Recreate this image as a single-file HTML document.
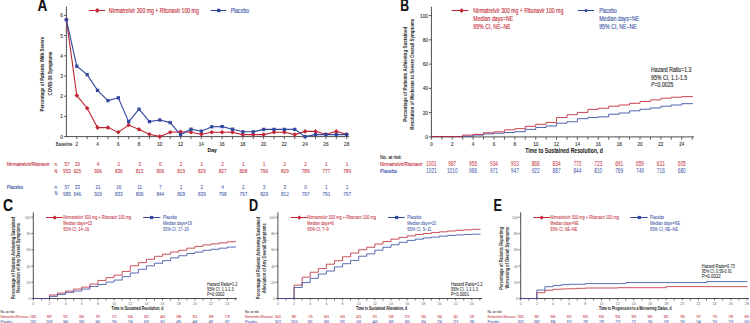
<!DOCTYPE html><html><head><meta charset="utf-8"><style>html,body{margin:0;padding:0;background:#fff;width:750px;height:323px;overflow:hidden}svg{display:block}text{font-family:"Liberation Sans",sans-serif;stroke:currentColor}</style></head><body>
<svg width="750" height="323" viewBox="0 0 750 323">
<rect width="750" height="323" fill="#fff"/>
<text x="37.60" y="11.26" font-size="15.6" fill="#111" color="#111" stroke-width="0.12" textLength="9.80" lengthAdjust="spacingAndGlyphs" font-weight="bold">A</text>
<line x1="66.40" y1="6.50" x2="66.40" y2="137.10" stroke="#3a3a3a" stroke-width="0.9"/>
<line x1="66.00" y1="136.60" x2="349.20" y2="136.60" stroke="#3a3a3a" stroke-width="0.9"/>
<line x1="63.90" y1="136.60" x2="66.40" y2="136.60" stroke="#3a3a3a" stroke-width="0.8"/>
<text x="62.90" y="138.63" font-size="5.8" fill="#333" color="#333" stroke-width="0.12" text-anchor="end" textLength="2.65" lengthAdjust="spacingAndGlyphs">0</text>
<line x1="63.90" y1="116.40" x2="66.40" y2="116.40" stroke="#3a3a3a" stroke-width="0.8"/>
<text x="62.90" y="118.43" font-size="5.8" fill="#333" color="#333" stroke-width="0.12" text-anchor="end" textLength="2.65" lengthAdjust="spacingAndGlyphs">1</text>
<line x1="63.90" y1="96.20" x2="66.40" y2="96.20" stroke="#3a3a3a" stroke-width="0.8"/>
<text x="62.90" y="98.23" font-size="5.8" fill="#333" color="#333" stroke-width="0.12" text-anchor="end" textLength="2.65" lengthAdjust="spacingAndGlyphs">2</text>
<line x1="63.90" y1="76.00" x2="66.40" y2="76.00" stroke="#3a3a3a" stroke-width="0.8"/>
<text x="62.90" y="78.03" font-size="5.8" fill="#333" color="#333" stroke-width="0.12" text-anchor="end" textLength="2.65" lengthAdjust="spacingAndGlyphs">3</text>
<line x1="63.90" y1="55.80" x2="66.40" y2="55.80" stroke="#3a3a3a" stroke-width="0.8"/>
<text x="62.90" y="57.83" font-size="5.8" fill="#333" color="#333" stroke-width="0.12" text-anchor="end" textLength="2.65" lengthAdjust="spacingAndGlyphs">4</text>
<line x1="63.90" y1="35.60" x2="66.40" y2="35.60" stroke="#3a3a3a" stroke-width="0.8"/>
<text x="62.90" y="37.63" font-size="5.8" fill="#333" color="#333" stroke-width="0.12" text-anchor="end" textLength="2.65" lengthAdjust="spacingAndGlyphs">5</text>
<line x1="63.90" y1="15.40" x2="66.40" y2="15.40" stroke="#3a3a3a" stroke-width="0.8"/>
<text x="62.90" y="17.43" font-size="5.8" fill="#333" color="#333" stroke-width="0.12" text-anchor="end" textLength="2.65" lengthAdjust="spacingAndGlyphs">6</text>
<line x1="76.78" y1="136.60" x2="76.78" y2="139.20" stroke="#3a3a3a" stroke-width="0.8"/>
<text x="76.78" y="146.16" font-size="5.6" fill="#333" color="#333" stroke-width="0.12" text-anchor="middle" textLength="2.55" lengthAdjust="spacingAndGlyphs">2</text>
<line x1="87.16" y1="136.60" x2="87.16" y2="139.20" stroke="#3a3a3a" stroke-width="0.8"/>
<line x1="97.54" y1="136.60" x2="97.54" y2="139.20" stroke="#3a3a3a" stroke-width="0.8"/>
<text x="97.54" y="146.16" font-size="5.6" fill="#333" color="#333" stroke-width="0.12" text-anchor="middle" textLength="2.55" lengthAdjust="spacingAndGlyphs">4</text>
<line x1="107.92" y1="136.60" x2="107.92" y2="139.20" stroke="#3a3a3a" stroke-width="0.8"/>
<line x1="118.30" y1="136.60" x2="118.30" y2="139.20" stroke="#3a3a3a" stroke-width="0.8"/>
<text x="118.30" y="146.16" font-size="5.6" fill="#333" color="#333" stroke-width="0.12" text-anchor="middle" textLength="2.55" lengthAdjust="spacingAndGlyphs">6</text>
<line x1="128.68" y1="136.60" x2="128.68" y2="139.20" stroke="#3a3a3a" stroke-width="0.8"/>
<line x1="139.06" y1="136.60" x2="139.06" y2="139.20" stroke="#3a3a3a" stroke-width="0.8"/>
<text x="139.06" y="146.16" font-size="5.6" fill="#333" color="#333" stroke-width="0.12" text-anchor="middle" textLength="2.55" lengthAdjust="spacingAndGlyphs">8</text>
<line x1="149.44" y1="136.60" x2="149.44" y2="139.20" stroke="#3a3a3a" stroke-width="0.8"/>
<line x1="159.82" y1="136.60" x2="159.82" y2="139.20" stroke="#3a3a3a" stroke-width="0.8"/>
<text x="159.82" y="146.16" font-size="5.6" fill="#333" color="#333" stroke-width="0.12" text-anchor="middle" textLength="5.11" lengthAdjust="spacingAndGlyphs">10</text>
<line x1="170.20" y1="136.60" x2="170.20" y2="139.20" stroke="#3a3a3a" stroke-width="0.8"/>
<line x1="180.58" y1="136.60" x2="180.58" y2="139.20" stroke="#3a3a3a" stroke-width="0.8"/>
<text x="180.58" y="146.16" font-size="5.6" fill="#333" color="#333" stroke-width="0.12" text-anchor="middle" textLength="5.11" lengthAdjust="spacingAndGlyphs">12</text>
<line x1="190.96" y1="136.60" x2="190.96" y2="139.20" stroke="#3a3a3a" stroke-width="0.8"/>
<line x1="201.34" y1="136.60" x2="201.34" y2="139.20" stroke="#3a3a3a" stroke-width="0.8"/>
<text x="201.34" y="146.16" font-size="5.6" fill="#333" color="#333" stroke-width="0.12" text-anchor="middle" textLength="5.11" lengthAdjust="spacingAndGlyphs">14</text>
<line x1="211.72" y1="136.60" x2="211.72" y2="139.20" stroke="#3a3a3a" stroke-width="0.8"/>
<line x1="222.10" y1="136.60" x2="222.10" y2="139.20" stroke="#3a3a3a" stroke-width="0.8"/>
<text x="222.10" y="146.16" font-size="5.6" fill="#333" color="#333" stroke-width="0.12" text-anchor="middle" textLength="5.11" lengthAdjust="spacingAndGlyphs">16</text>
<line x1="232.48" y1="136.60" x2="232.48" y2="139.20" stroke="#3a3a3a" stroke-width="0.8"/>
<line x1="242.86" y1="136.60" x2="242.86" y2="139.20" stroke="#3a3a3a" stroke-width="0.8"/>
<text x="242.86" y="146.16" font-size="5.6" fill="#333" color="#333" stroke-width="0.12" text-anchor="middle" textLength="5.11" lengthAdjust="spacingAndGlyphs">18</text>
<line x1="253.24" y1="136.60" x2="253.24" y2="139.20" stroke="#3a3a3a" stroke-width="0.8"/>
<line x1="263.62" y1="136.60" x2="263.62" y2="139.20" stroke="#3a3a3a" stroke-width="0.8"/>
<text x="263.62" y="146.16" font-size="5.6" fill="#333" color="#333" stroke-width="0.12" text-anchor="middle" textLength="5.11" lengthAdjust="spacingAndGlyphs">20</text>
<line x1="274.00" y1="136.60" x2="274.00" y2="139.20" stroke="#3a3a3a" stroke-width="0.8"/>
<line x1="284.38" y1="136.60" x2="284.38" y2="139.20" stroke="#3a3a3a" stroke-width="0.8"/>
<text x="284.38" y="146.16" font-size="5.6" fill="#333" color="#333" stroke-width="0.12" text-anchor="middle" textLength="5.11" lengthAdjust="spacingAndGlyphs">22</text>
<line x1="294.76" y1="136.60" x2="294.76" y2="139.20" stroke="#3a3a3a" stroke-width="0.8"/>
<line x1="305.14" y1="136.60" x2="305.14" y2="139.20" stroke="#3a3a3a" stroke-width="0.8"/>
<text x="305.14" y="146.16" font-size="5.6" fill="#333" color="#333" stroke-width="0.12" text-anchor="middle" textLength="5.11" lengthAdjust="spacingAndGlyphs">24</text>
<line x1="315.52" y1="136.60" x2="315.52" y2="139.20" stroke="#3a3a3a" stroke-width="0.8"/>
<line x1="325.90" y1="136.60" x2="325.90" y2="139.20" stroke="#3a3a3a" stroke-width="0.8"/>
<text x="325.90" y="146.16" font-size="5.6" fill="#333" color="#333" stroke-width="0.12" text-anchor="middle" textLength="5.11" lengthAdjust="spacingAndGlyphs">26</text>
<line x1="336.28" y1="136.60" x2="336.28" y2="139.20" stroke="#3a3a3a" stroke-width="0.8"/>
<line x1="346.66" y1="136.60" x2="346.66" y2="139.20" stroke="#3a3a3a" stroke-width="0.8"/>
<text x="346.66" y="146.16" font-size="5.6" fill="#333" color="#333" stroke-width="0.12" text-anchor="middle" textLength="5.11" lengthAdjust="spacingAndGlyphs">28</text>
<text x="64.20" y="146.16" font-size="5.6" fill="#333" color="#333" stroke-width="0.12" text-anchor="middle" textLength="16.70" lengthAdjust="spacingAndGlyphs">Baseline</text>
<text x="212.20" y="152.30" font-size="6.0" fill="#111" color="#111" stroke-width="0.05" text-anchor="middle" textLength="9.40" lengthAdjust="spacingAndGlyphs" font-weight="bold">Day</text>
<g transform="translate(42.40 74.20) rotate(-90)"><text x="0" y="1.96" font-size="5.6" fill="#2a2a2a" color="#2a2a2a" stroke-width="0.04" text-anchor="middle" font-weight="bold" textLength="74.80" lengthAdjust="spacingAndGlyphs">Percentage of Patients With Severe</text></g>
<g transform="translate(49.80 73.60) rotate(-90)"><text x="0" y="1.96" font-size="5.6" fill="#2a2a2a" color="#2a2a2a" stroke-width="0.04" text-anchor="middle" font-weight="bold" textLength="43.80" lengthAdjust="spacingAndGlyphs">COVID-19 Symptoms</text></g>
<line x1="89.00" y1="10.50" x2="105.20" y2="10.50" stroke="#bf2535" stroke-width="1.0"/>
<path d="M97.30 8.10L99.70 10.50L97.30 12.90L94.90 10.50Z" fill="#bf2535"/>
<text x="108.80" y="12.61" font-size="6.3" fill="#c42a36" color="#c42a36" stroke-width="0.12" textLength="90.00" lengthAdjust="spacingAndGlyphs">Nirmatrelvir 300 mg + Ritonavir 100 mg</text>
<line x1="210.80" y1="10.50" x2="226.40" y2="10.50" stroke="#3147a0" stroke-width="1.0"/>
<rect x="217.00" y="8.80" width="3.40" height="3.40" fill="#3147a0"/>
<text x="230.70" y="12.61" font-size="6.3" fill="#3b52a6" color="#3b52a6" stroke-width="0.12" textLength="18.50" lengthAdjust="spacingAndGlyphs">Placebo</text>
<polyline points="66.40,19.80 76.78,95.40 87.16,108.20 97.54,127.60 107.92,127.60 118.30,132.20 128.68,125.00 139.06,129.40 149.44,134.20 159.82,136.60 170.20,132.20 180.58,131.80 190.96,132.20 201.34,134.20 211.72,132.20 222.10,132.20 232.48,132.20 242.86,134.60 253.24,134.60 263.62,134.60 274.00,132.20 284.38,132.20 294.76,134.60 305.14,131.40 315.52,131.40 325.90,134.20 336.28,131.40 346.66,134.20" fill="none" stroke="#bf2535" stroke-width="1.1" stroke-linejoin="miter"/>
<path d="M66.40 17.50L68.70 19.80L66.40 22.10L64.10 19.80Z" fill="#bf2535"/>
<path d="M76.78 93.10L79.08 95.40L76.78 97.70L74.48 95.40Z" fill="#bf2535"/>
<path d="M87.16 105.90L89.46 108.20L87.16 110.50L84.86 108.20Z" fill="#bf2535"/>
<path d="M97.54 125.30L99.84 127.60L97.54 129.90L95.24 127.60Z" fill="#bf2535"/>
<path d="M107.92 125.30L110.22 127.60L107.92 129.90L105.62 127.60Z" fill="#bf2535"/>
<path d="M118.30 129.90L120.60 132.20L118.30 134.50L116.00 132.20Z" fill="#bf2535"/>
<path d="M128.68 122.70L130.98 125.00L128.68 127.30L126.38 125.00Z" fill="#bf2535"/>
<path d="M139.06 127.10L141.36 129.40L139.06 131.70L136.76 129.40Z" fill="#bf2535"/>
<path d="M149.44 131.90L151.74 134.20L149.44 136.50L147.14 134.20Z" fill="#bf2535"/>
<path d="M159.82 134.30L162.12 136.60L159.82 138.90L157.52 136.60Z" fill="#bf2535"/>
<path d="M170.20 129.90L172.50 132.20L170.20 134.50L167.90 132.20Z" fill="#bf2535"/>
<path d="M180.58 129.50L182.88 131.80L180.58 134.10L178.28 131.80Z" fill="#bf2535"/>
<path d="M190.96 129.90L193.26 132.20L190.96 134.50L188.66 132.20Z" fill="#bf2535"/>
<path d="M201.34 131.90L203.64 134.20L201.34 136.50L199.04 134.20Z" fill="#bf2535"/>
<path d="M211.72 129.90L214.02 132.20L211.72 134.50L209.42 132.20Z" fill="#bf2535"/>
<path d="M222.10 129.90L224.40 132.20L222.10 134.50L219.80 132.20Z" fill="#bf2535"/>
<path d="M232.48 129.90L234.78 132.20L232.48 134.50L230.18 132.20Z" fill="#bf2535"/>
<path d="M242.86 132.30L245.16 134.60L242.86 136.90L240.56 134.60Z" fill="#bf2535"/>
<path d="M253.24 132.30L255.54 134.60L253.24 136.90L250.94 134.60Z" fill="#bf2535"/>
<path d="M263.62 132.30L265.92 134.60L263.62 136.90L261.32 134.60Z" fill="#bf2535"/>
<path d="M274.00 129.90L276.30 132.20L274.00 134.50L271.70 132.20Z" fill="#bf2535"/>
<path d="M284.38 129.90L286.68 132.20L284.38 134.50L282.08 132.20Z" fill="#bf2535"/>
<path d="M294.76 132.30L297.06 134.60L294.76 136.90L292.46 134.60Z" fill="#bf2535"/>
<path d="M305.14 129.10L307.44 131.40L305.14 133.70L302.84 131.40Z" fill="#bf2535"/>
<path d="M315.52 129.10L317.82 131.40L315.52 133.70L313.22 131.40Z" fill="#bf2535"/>
<path d="M325.90 131.90L328.20 134.20L325.90 136.50L323.60 134.20Z" fill="#bf2535"/>
<path d="M336.28 129.10L338.58 131.40L336.28 133.70L333.98 131.40Z" fill="#bf2535"/>
<path d="M346.66 131.90L348.96 134.20L346.66 136.50L344.36 134.20Z" fill="#bf2535"/>
<polyline points="66.40,19.80 76.78,66.20 87.16,74.60 97.54,90.40 107.92,100.60 118.30,97.80 128.68,121.60 139.06,109.20 149.44,121.60 159.82,120.00 170.20,122.60 180.58,134.80 190.96,129.20 201.34,131.20 211.72,126.80 222.10,126.60 232.48,129.20 242.86,131.80 253.24,131.80 263.62,129.40 274.00,129.40 284.38,129.40 294.76,129.40 305.14,136.60 315.52,134.60 325.90,134.60 336.28,134.60 346.66,134.60" fill="none" stroke="#3147a0" stroke-width="1.1" stroke-linejoin="miter"/>
<rect x="64.75" y="18.15" width="3.30" height="3.30" fill="#3147a0"/>
<rect x="75.13" y="64.55" width="3.30" height="3.30" fill="#3147a0"/>
<rect x="85.51" y="72.95" width="3.30" height="3.30" fill="#3147a0"/>
<rect x="95.89" y="88.75" width="3.30" height="3.30" fill="#3147a0"/>
<rect x="106.27" y="98.95" width="3.30" height="3.30" fill="#3147a0"/>
<rect x="116.65" y="96.15" width="3.30" height="3.30" fill="#3147a0"/>
<rect x="127.03" y="119.95" width="3.30" height="3.30" fill="#3147a0"/>
<rect x="137.41" y="107.55" width="3.30" height="3.30" fill="#3147a0"/>
<rect x="147.79" y="119.95" width="3.30" height="3.30" fill="#3147a0"/>
<rect x="158.17" y="118.35" width="3.30" height="3.30" fill="#3147a0"/>
<rect x="168.55" y="120.95" width="3.30" height="3.30" fill="#3147a0"/>
<rect x="178.93" y="133.15" width="3.30" height="3.30" fill="#3147a0"/>
<rect x="189.31" y="127.55" width="3.30" height="3.30" fill="#3147a0"/>
<rect x="199.69" y="129.55" width="3.30" height="3.30" fill="#3147a0"/>
<rect x="210.07" y="125.15" width="3.30" height="3.30" fill="#3147a0"/>
<rect x="220.45" y="124.95" width="3.30" height="3.30" fill="#3147a0"/>
<rect x="230.83" y="127.55" width="3.30" height="3.30" fill="#3147a0"/>
<rect x="241.21" y="130.15" width="3.30" height="3.30" fill="#3147a0"/>
<rect x="251.59" y="130.15" width="3.30" height="3.30" fill="#3147a0"/>
<rect x="261.97" y="127.75" width="3.30" height="3.30" fill="#3147a0"/>
<rect x="272.35" y="127.75" width="3.30" height="3.30" fill="#3147a0"/>
<rect x="282.73" y="127.75" width="3.30" height="3.30" fill="#3147a0"/>
<rect x="293.11" y="127.75" width="3.30" height="3.30" fill="#3147a0"/>
<rect x="303.49" y="134.95" width="3.30" height="3.30" fill="#3147a0"/>
<rect x="313.87" y="132.95" width="3.30" height="3.30" fill="#3147a0"/>
<rect x="324.25" y="132.95" width="3.30" height="3.30" fill="#3147a0"/>
<rect x="334.63" y="132.95" width="3.30" height="3.30" fill="#3147a0"/>
<rect x="345.01" y="132.95" width="3.30" height="3.30" fill="#3147a0"/>
<text x="6.80" y="166.19" font-size="5.4" fill="#c42a36" color="#c42a36" stroke-width="0.12" textLength="42.70" lengthAdjust="spacingAndGlyphs">Nirmatrelvir/Ritonavir</text>
<text x="54.40" y="166.26" font-size="5.6" fill="#c42a36" color="#c42a36" stroke-width="0.12" textLength="3.20" lengthAdjust="spacingAndGlyphs">n:</text>
<text x="54.40" y="172.86" font-size="5.6" fill="#c42a36" color="#c42a36" stroke-width="0.12" textLength="3.80" lengthAdjust="spacingAndGlyphs">N:</text>
<text x="6.80" y="188.89" font-size="5.4" fill="#3b52a6" color="#3b52a6" stroke-width="0.12" textLength="16.10" lengthAdjust="spacingAndGlyphs">Placebo</text>
<text x="54.40" y="188.96" font-size="5.6" fill="#3b52a6" color="#3b52a6" stroke-width="0.12" textLength="3.20" lengthAdjust="spacingAndGlyphs">n:</text>
<text x="54.40" y="195.46" font-size="5.6" fill="#3b52a6" color="#3b52a6" stroke-width="0.12" textLength="3.80" lengthAdjust="spacingAndGlyphs">N:</text>
<text x="67.00" y="166.40" font-size="6.0" fill="#c42a36" color="#c42a36" stroke-width="0.05" text-anchor="middle" textLength="5.21" lengthAdjust="spacingAndGlyphs">57</text>
<text x="67.00" y="173.00" font-size="6.0" fill="#c42a36" color="#c42a36" stroke-width="0.05" text-anchor="middle" textLength="7.81" lengthAdjust="spacingAndGlyphs">953</text>
<text x="67.00" y="189.10" font-size="6.0" fill="#3b52a6" color="#3b52a6" stroke-width="0.05" text-anchor="middle" textLength="5.21" lengthAdjust="spacingAndGlyphs">57</text>
<text x="67.00" y="195.60" font-size="6.0" fill="#3b52a6" color="#3b52a6" stroke-width="0.05" text-anchor="middle" textLength="7.81" lengthAdjust="spacingAndGlyphs">985</text>
<text x="77.28" y="166.40" font-size="6.0" fill="#c42a36" color="#c42a36" stroke-width="0.05" text-anchor="middle" textLength="5.21" lengthAdjust="spacingAndGlyphs">19</text>
<text x="77.28" y="173.00" font-size="6.0" fill="#c42a36" color="#c42a36" stroke-width="0.05" text-anchor="middle" textLength="7.81" lengthAdjust="spacingAndGlyphs">925</text>
<text x="77.28" y="189.10" font-size="6.0" fill="#3b52a6" color="#3b52a6" stroke-width="0.05" text-anchor="middle" textLength="5.21" lengthAdjust="spacingAndGlyphs">33</text>
<text x="77.28" y="195.60" font-size="6.0" fill="#3b52a6" color="#3b52a6" stroke-width="0.05" text-anchor="middle" textLength="7.81" lengthAdjust="spacingAndGlyphs">946</text>
<text x="98.04" y="166.40" font-size="6.0" fill="#c42a36" color="#c42a36" stroke-width="0.05" text-anchor="middle" textLength="2.60" lengthAdjust="spacingAndGlyphs">4</text>
<text x="98.04" y="173.00" font-size="6.0" fill="#c42a36" color="#c42a36" stroke-width="0.05" text-anchor="middle" textLength="7.81" lengthAdjust="spacingAndGlyphs">906</text>
<text x="98.04" y="189.10" font-size="6.0" fill="#3b52a6" color="#3b52a6" stroke-width="0.05" text-anchor="middle" textLength="5.21" lengthAdjust="spacingAndGlyphs">21</text>
<text x="98.04" y="195.60" font-size="6.0" fill="#3b52a6" color="#3b52a6" stroke-width="0.05" text-anchor="middle" textLength="7.81" lengthAdjust="spacingAndGlyphs">919</text>
<text x="118.80" y="166.40" font-size="6.0" fill="#c42a36" color="#c42a36" stroke-width="0.05" text-anchor="middle" textLength="2.60" lengthAdjust="spacingAndGlyphs">2</text>
<text x="118.80" y="173.00" font-size="6.0" fill="#c42a36" color="#c42a36" stroke-width="0.05" text-anchor="middle" textLength="7.81" lengthAdjust="spacingAndGlyphs">836</text>
<text x="118.80" y="189.10" font-size="6.0" fill="#3b52a6" color="#3b52a6" stroke-width="0.05" text-anchor="middle" textLength="5.21" lengthAdjust="spacingAndGlyphs">16</text>
<text x="118.80" y="195.60" font-size="6.0" fill="#3b52a6" color="#3b52a6" stroke-width="0.05" text-anchor="middle" textLength="7.81" lengthAdjust="spacingAndGlyphs">833</text>
<text x="139.56" y="166.40" font-size="6.0" fill="#c42a36" color="#c42a36" stroke-width="0.05" text-anchor="middle" textLength="2.60" lengthAdjust="spacingAndGlyphs">3</text>
<text x="139.56" y="173.00" font-size="6.0" fill="#c42a36" color="#c42a36" stroke-width="0.05" text-anchor="middle" textLength="7.81" lengthAdjust="spacingAndGlyphs">813</text>
<text x="139.56" y="189.10" font-size="6.0" fill="#3b52a6" color="#3b52a6" stroke-width="0.05" text-anchor="middle" textLength="4.86" lengthAdjust="spacingAndGlyphs">11</text>
<text x="139.56" y="195.60" font-size="6.0" fill="#3b52a6" color="#3b52a6" stroke-width="0.05" text-anchor="middle" textLength="7.81" lengthAdjust="spacingAndGlyphs">809</text>
<text x="160.32" y="166.40" font-size="6.0" fill="#c42a36" color="#c42a36" stroke-width="0.05" text-anchor="middle" textLength="2.60" lengthAdjust="spacingAndGlyphs">0</text>
<text x="160.32" y="173.00" font-size="6.0" fill="#c42a36" color="#c42a36" stroke-width="0.05" text-anchor="middle" textLength="7.81" lengthAdjust="spacingAndGlyphs">806</text>
<text x="160.32" y="189.10" font-size="6.0" fill="#3b52a6" color="#3b52a6" stroke-width="0.05" text-anchor="middle" textLength="2.60" lengthAdjust="spacingAndGlyphs">7</text>
<text x="160.32" y="195.60" font-size="6.0" fill="#3b52a6" color="#3b52a6" stroke-width="0.05" text-anchor="middle" textLength="7.81" lengthAdjust="spacingAndGlyphs">844</text>
<text x="181.08" y="166.40" font-size="6.0" fill="#c42a36" color="#c42a36" stroke-width="0.05" text-anchor="middle" textLength="2.60" lengthAdjust="spacingAndGlyphs">2</text>
<text x="181.08" y="173.00" font-size="6.0" fill="#c42a36" color="#c42a36" stroke-width="0.05" text-anchor="middle" textLength="7.81" lengthAdjust="spacingAndGlyphs">819</text>
<text x="181.08" y="189.10" font-size="6.0" fill="#3b52a6" color="#3b52a6" stroke-width="0.05" text-anchor="middle" textLength="2.60" lengthAdjust="spacingAndGlyphs">1</text>
<text x="181.08" y="195.60" font-size="6.0" fill="#3b52a6" color="#3b52a6" stroke-width="0.05" text-anchor="middle" textLength="7.81" lengthAdjust="spacingAndGlyphs">809</text>
<text x="201.84" y="166.40" font-size="6.0" fill="#c42a36" color="#c42a36" stroke-width="0.05" text-anchor="middle" textLength="2.60" lengthAdjust="spacingAndGlyphs">1</text>
<text x="201.84" y="173.00" font-size="6.0" fill="#c42a36" color="#c42a36" stroke-width="0.05" text-anchor="middle" textLength="7.81" lengthAdjust="spacingAndGlyphs">829</text>
<text x="201.84" y="189.10" font-size="6.0" fill="#3b52a6" color="#3b52a6" stroke-width="0.05" text-anchor="middle" textLength="2.60" lengthAdjust="spacingAndGlyphs">2</text>
<text x="201.84" y="195.60" font-size="6.0" fill="#3b52a6" color="#3b52a6" stroke-width="0.05" text-anchor="middle" textLength="7.81" lengthAdjust="spacingAndGlyphs">839</text>
<text x="222.60" y="166.40" font-size="6.0" fill="#c42a36" color="#c42a36" stroke-width="0.05" text-anchor="middle" textLength="2.60" lengthAdjust="spacingAndGlyphs">2</text>
<text x="222.60" y="173.00" font-size="6.0" fill="#c42a36" color="#c42a36" stroke-width="0.05" text-anchor="middle" textLength="7.81" lengthAdjust="spacingAndGlyphs">827</text>
<text x="222.60" y="189.10" font-size="6.0" fill="#3b52a6" color="#3b52a6" stroke-width="0.05" text-anchor="middle" textLength="2.60" lengthAdjust="spacingAndGlyphs">4</text>
<text x="222.60" y="195.60" font-size="6.0" fill="#3b52a6" color="#3b52a6" stroke-width="0.05" text-anchor="middle" textLength="7.81" lengthAdjust="spacingAndGlyphs">798</text>
<text x="243.36" y="166.40" font-size="6.0" fill="#c42a36" color="#c42a36" stroke-width="0.05" text-anchor="middle" textLength="2.60" lengthAdjust="spacingAndGlyphs">1</text>
<text x="243.36" y="173.00" font-size="6.0" fill="#c42a36" color="#c42a36" stroke-width="0.05" text-anchor="middle" textLength="7.81" lengthAdjust="spacingAndGlyphs">808</text>
<text x="243.36" y="189.10" font-size="6.0" fill="#3b52a6" color="#3b52a6" stroke-width="0.05" text-anchor="middle" textLength="2.60" lengthAdjust="spacingAndGlyphs">2</text>
<text x="243.36" y="195.60" font-size="6.0" fill="#3b52a6" color="#3b52a6" stroke-width="0.05" text-anchor="middle" textLength="7.81" lengthAdjust="spacingAndGlyphs">797</text>
<text x="264.12" y="166.40" font-size="6.0" fill="#c42a36" color="#c42a36" stroke-width="0.05" text-anchor="middle" textLength="2.60" lengthAdjust="spacingAndGlyphs">1</text>
<text x="264.12" y="173.00" font-size="6.0" fill="#c42a36" color="#c42a36" stroke-width="0.05" text-anchor="middle" textLength="7.81" lengthAdjust="spacingAndGlyphs">796</text>
<text x="264.12" y="189.10" font-size="6.0" fill="#3b52a6" color="#3b52a6" stroke-width="0.05" text-anchor="middle" textLength="2.60" lengthAdjust="spacingAndGlyphs">3</text>
<text x="264.12" y="195.60" font-size="6.0" fill="#3b52a6" color="#3b52a6" stroke-width="0.05" text-anchor="middle" textLength="7.81" lengthAdjust="spacingAndGlyphs">829</text>
<text x="284.88" y="166.40" font-size="6.0" fill="#c42a36" color="#c42a36" stroke-width="0.05" text-anchor="middle" textLength="2.60" lengthAdjust="spacingAndGlyphs">2</text>
<text x="284.88" y="173.00" font-size="6.0" fill="#c42a36" color="#c42a36" stroke-width="0.05" text-anchor="middle" textLength="7.81" lengthAdjust="spacingAndGlyphs">809</text>
<text x="284.88" y="189.10" font-size="6.0" fill="#3b52a6" color="#3b52a6" stroke-width="0.05" text-anchor="middle" textLength="2.60" lengthAdjust="spacingAndGlyphs">3</text>
<text x="284.88" y="195.60" font-size="6.0" fill="#3b52a6" color="#3b52a6" stroke-width="0.05" text-anchor="middle" textLength="7.81" lengthAdjust="spacingAndGlyphs">812</text>
<text x="305.64" y="166.40" font-size="6.0" fill="#c42a36" color="#c42a36" stroke-width="0.05" text-anchor="middle" textLength="2.60" lengthAdjust="spacingAndGlyphs">2</text>
<text x="305.64" y="173.00" font-size="6.0" fill="#c42a36" color="#c42a36" stroke-width="0.05" text-anchor="middle" textLength="7.81" lengthAdjust="spacingAndGlyphs">789</text>
<text x="305.64" y="189.10" font-size="6.0" fill="#3b52a6" color="#3b52a6" stroke-width="0.05" text-anchor="middle" textLength="2.60" lengthAdjust="spacingAndGlyphs">0</text>
<text x="305.64" y="195.60" font-size="6.0" fill="#3b52a6" color="#3b52a6" stroke-width="0.05" text-anchor="middle" textLength="7.81" lengthAdjust="spacingAndGlyphs">797</text>
<text x="326.40" y="166.40" font-size="6.0" fill="#c42a36" color="#c42a36" stroke-width="0.05" text-anchor="middle" textLength="2.60" lengthAdjust="spacingAndGlyphs">1</text>
<text x="326.40" y="173.00" font-size="6.0" fill="#c42a36" color="#c42a36" stroke-width="0.05" text-anchor="middle" textLength="7.81" lengthAdjust="spacingAndGlyphs">777</text>
<text x="326.40" y="189.10" font-size="6.0" fill="#3b52a6" color="#3b52a6" stroke-width="0.05" text-anchor="middle" textLength="2.60" lengthAdjust="spacingAndGlyphs">1</text>
<text x="326.40" y="195.60" font-size="6.0" fill="#3b52a6" color="#3b52a6" stroke-width="0.05" text-anchor="middle" textLength="7.81" lengthAdjust="spacingAndGlyphs">791</text>
<text x="347.16" y="166.40" font-size="6.0" fill="#c42a36" color="#c42a36" stroke-width="0.05" text-anchor="middle" textLength="2.60" lengthAdjust="spacingAndGlyphs">1</text>
<text x="347.16" y="173.00" font-size="6.0" fill="#c42a36" color="#c42a36" stroke-width="0.05" text-anchor="middle" textLength="7.81" lengthAdjust="spacingAndGlyphs">789</text>
<text x="347.16" y="189.10" font-size="6.0" fill="#3b52a6" color="#3b52a6" stroke-width="0.05" text-anchor="middle" textLength="2.60" lengthAdjust="spacingAndGlyphs">1</text>
<text x="347.16" y="195.60" font-size="6.0" fill="#3b52a6" color="#3b52a6" stroke-width="0.05" text-anchor="middle" textLength="7.81" lengthAdjust="spacingAndGlyphs">797</text>
<text x="400.20" y="11.26" font-size="15.6" fill="#111" color="#111" stroke-width="0.12" textLength="8.80" lengthAdjust="spacingAndGlyphs" font-weight="bold">B</text>
<line x1="431.40" y1="6.80" x2="431.40" y2="137.40" stroke="#3a3a3a" stroke-width="0.9"/>
<line x1="431.00" y1="136.90" x2="694.00" y2="136.90" stroke="#3a3a3a" stroke-width="0.9"/>
<line x1="428.80" y1="136.90" x2="431.40" y2="136.90" stroke="#3a3a3a" stroke-width="0.8"/>
<text x="428.00" y="139.00" font-size="6.0" fill="#333" color="#333" stroke-width="0.12" text-anchor="end" textLength="2.67" lengthAdjust="spacingAndGlyphs">0</text>
<line x1="428.80" y1="112.64" x2="431.40" y2="112.64" stroke="#3a3a3a" stroke-width="0.8"/>
<text x="428.00" y="114.74" font-size="6.0" fill="#333" color="#333" stroke-width="0.12" text-anchor="end" textLength="5.34" lengthAdjust="spacingAndGlyphs">20</text>
<line x1="428.80" y1="88.38" x2="431.40" y2="88.38" stroke="#3a3a3a" stroke-width="0.8"/>
<text x="428.00" y="90.48" font-size="6.0" fill="#333" color="#333" stroke-width="0.12" text-anchor="end" textLength="5.34" lengthAdjust="spacingAndGlyphs">40</text>
<line x1="428.80" y1="64.12" x2="431.40" y2="64.12" stroke="#3a3a3a" stroke-width="0.8"/>
<text x="428.00" y="66.22" font-size="6.0" fill="#333" color="#333" stroke-width="0.12" text-anchor="end" textLength="5.34" lengthAdjust="spacingAndGlyphs">60</text>
<line x1="428.80" y1="39.86" x2="431.40" y2="39.86" stroke="#3a3a3a" stroke-width="0.8"/>
<text x="428.00" y="41.96" font-size="6.0" fill="#333" color="#333" stroke-width="0.12" text-anchor="end" textLength="5.34" lengthAdjust="spacingAndGlyphs">80</text>
<line x1="428.80" y1="15.60" x2="431.40" y2="15.60" stroke="#3a3a3a" stroke-width="0.8"/>
<text x="428.00" y="17.70" font-size="6.0" fill="#333" color="#333" stroke-width="0.12" text-anchor="end" textLength="8.01" lengthAdjust="spacingAndGlyphs">100</text>
<line x1="431.40" y1="136.90" x2="431.40" y2="139.70" stroke="#3a3a3a" stroke-width="0.8"/>
<text x="431.40" y="146.33" font-size="5.8" fill="#333" color="#333" stroke-width="0.12" text-anchor="middle" textLength="2.52" lengthAdjust="spacingAndGlyphs">0</text>
<line x1="441.83" y1="136.90" x2="441.83" y2="139.70" stroke="#3a3a3a" stroke-width="0.8"/>
<line x1="452.26" y1="136.90" x2="452.26" y2="139.70" stroke="#3a3a3a" stroke-width="0.8"/>
<text x="452.26" y="146.33" font-size="5.8" fill="#333" color="#333" stroke-width="0.12" text-anchor="middle" textLength="2.52" lengthAdjust="spacingAndGlyphs">2</text>
<line x1="462.69" y1="136.90" x2="462.69" y2="139.70" stroke="#3a3a3a" stroke-width="0.8"/>
<line x1="473.12" y1="136.90" x2="473.12" y2="139.70" stroke="#3a3a3a" stroke-width="0.8"/>
<text x="473.12" y="146.33" font-size="5.8" fill="#333" color="#333" stroke-width="0.12" text-anchor="middle" textLength="2.52" lengthAdjust="spacingAndGlyphs">4</text>
<line x1="483.55" y1="136.90" x2="483.55" y2="139.70" stroke="#3a3a3a" stroke-width="0.8"/>
<line x1="493.98" y1="136.90" x2="493.98" y2="139.70" stroke="#3a3a3a" stroke-width="0.8"/>
<text x="493.98" y="146.33" font-size="5.8" fill="#333" color="#333" stroke-width="0.12" text-anchor="middle" textLength="2.52" lengthAdjust="spacingAndGlyphs">6</text>
<line x1="504.41" y1="136.90" x2="504.41" y2="139.70" stroke="#3a3a3a" stroke-width="0.8"/>
<line x1="514.84" y1="136.90" x2="514.84" y2="139.70" stroke="#3a3a3a" stroke-width="0.8"/>
<text x="514.84" y="146.33" font-size="5.8" fill="#333" color="#333" stroke-width="0.12" text-anchor="middle" textLength="2.52" lengthAdjust="spacingAndGlyphs">8</text>
<line x1="525.27" y1="136.90" x2="525.27" y2="139.70" stroke="#3a3a3a" stroke-width="0.8"/>
<line x1="535.70" y1="136.90" x2="535.70" y2="139.70" stroke="#3a3a3a" stroke-width="0.8"/>
<text x="535.70" y="146.33" font-size="5.8" fill="#333" color="#333" stroke-width="0.12" text-anchor="middle" textLength="5.03" lengthAdjust="spacingAndGlyphs">10</text>
<line x1="546.13" y1="136.90" x2="546.13" y2="139.70" stroke="#3a3a3a" stroke-width="0.8"/>
<line x1="556.56" y1="136.90" x2="556.56" y2="139.70" stroke="#3a3a3a" stroke-width="0.8"/>
<text x="556.56" y="146.33" font-size="5.8" fill="#333" color="#333" stroke-width="0.12" text-anchor="middle" textLength="5.03" lengthAdjust="spacingAndGlyphs">12</text>
<line x1="566.99" y1="136.90" x2="566.99" y2="139.70" stroke="#3a3a3a" stroke-width="0.8"/>
<line x1="577.42" y1="136.90" x2="577.42" y2="139.70" stroke="#3a3a3a" stroke-width="0.8"/>
<text x="577.42" y="146.33" font-size="5.8" fill="#333" color="#333" stroke-width="0.12" text-anchor="middle" textLength="5.03" lengthAdjust="spacingAndGlyphs">14</text>
<line x1="587.85" y1="136.90" x2="587.85" y2="139.70" stroke="#3a3a3a" stroke-width="0.8"/>
<line x1="598.28" y1="136.90" x2="598.28" y2="139.70" stroke="#3a3a3a" stroke-width="0.8"/>
<text x="598.28" y="146.33" font-size="5.8" fill="#333" color="#333" stroke-width="0.12" text-anchor="middle" textLength="5.03" lengthAdjust="spacingAndGlyphs">16</text>
<line x1="608.71" y1="136.90" x2="608.71" y2="139.70" stroke="#3a3a3a" stroke-width="0.8"/>
<line x1="619.14" y1="136.90" x2="619.14" y2="139.70" stroke="#3a3a3a" stroke-width="0.8"/>
<text x="619.14" y="146.33" font-size="5.8" fill="#333" color="#333" stroke-width="0.12" text-anchor="middle" textLength="5.03" lengthAdjust="spacingAndGlyphs">18</text>
<line x1="629.57" y1="136.90" x2="629.57" y2="139.70" stroke="#3a3a3a" stroke-width="0.8"/>
<line x1="640.00" y1="136.90" x2="640.00" y2="139.70" stroke="#3a3a3a" stroke-width="0.8"/>
<text x="640.00" y="146.33" font-size="5.8" fill="#333" color="#333" stroke-width="0.12" text-anchor="middle" textLength="5.03" lengthAdjust="spacingAndGlyphs">20</text>
<line x1="650.43" y1="136.90" x2="650.43" y2="139.70" stroke="#3a3a3a" stroke-width="0.8"/>
<line x1="660.86" y1="136.90" x2="660.86" y2="139.70" stroke="#3a3a3a" stroke-width="0.8"/>
<text x="660.86" y="146.33" font-size="5.8" fill="#333" color="#333" stroke-width="0.12" text-anchor="middle" textLength="5.03" lengthAdjust="spacingAndGlyphs">22</text>
<line x1="671.29" y1="136.90" x2="671.29" y2="139.70" stroke="#3a3a3a" stroke-width="0.8"/>
<line x1="681.72" y1="136.90" x2="681.72" y2="139.70" stroke="#3a3a3a" stroke-width="0.8"/>
<text x="681.72" y="146.33" font-size="5.8" fill="#333" color="#333" stroke-width="0.12" text-anchor="middle" textLength="5.03" lengthAdjust="spacingAndGlyphs">24</text>
<line x1="692.15" y1="136.90" x2="692.15" y2="139.70" stroke="#3a3a3a" stroke-width="0.8"/>
<text x="525.30" y="153.18" font-size="6.8" fill="#111" color="#111" stroke-width="0" textLength="77.70" lengthAdjust="spacingAndGlyphs" font-weight="bold">Time to Sustained Resolution, d</text>
<g transform="translate(405.20 74.30) rotate(-90)"><text x="0" y="2.06" font-size="5.9" fill="#2a2a2a" color="#2a2a2a" stroke-width="0" text-anchor="middle" font-weight="bold" textLength="95.00" lengthAdjust="spacingAndGlyphs">Percentage of Patients Achieving Sustained</text></g>
<g transform="translate(411.70 74.25) rotate(-90)"><text x="0" y="2.06" font-size="5.9" fill="#2a2a2a" color="#2a2a2a" stroke-width="0" text-anchor="middle" font-weight="bold" textLength="111.10" lengthAdjust="spacingAndGlyphs">Resolution of Moderate to Severe Overall Symptoms</text></g>
<line x1="451.50" y1="10.50" x2="468.50" y2="10.50" stroke="#bf2535" stroke-width="1.0"/>
<path d="M461.60 8.20L464.00 10.60L461.60 13.00L459.20 10.60Z" fill="#bf2535"/>
<text x="473.30" y="13.35" font-size="7.0" fill="#c42a36" color="#c42a36" stroke-width="0.12" textLength="90.00" lengthAdjust="spacingAndGlyphs">Nirmatrelvir 300 mg + Ritonavir 100 mg</text>
<text x="473.30" y="21.35" font-size="7.0" fill="#c42a36" color="#c42a36" stroke-width="0.12" textLength="40.00" lengthAdjust="spacingAndGlyphs">Median days=NE</text>
<text x="473.30" y="28.75" font-size="7.0" fill="#c42a36" color="#c42a36" stroke-width="0.12" textLength="37.50" lengthAdjust="spacingAndGlyphs">95% CI, NE–NE</text>
<line x1="577.60" y1="10.50" x2="594.00" y2="10.50" stroke="#3147a0" stroke-width="1.0"/>
<circle cx="586" cy="10.6" r="1.6" fill="#3147a0"/>
<text x="599.20" y="13.35" font-size="7.0" fill="#3b52a6" color="#3b52a6" stroke-width="0.12" textLength="17.60" lengthAdjust="spacingAndGlyphs">Placebo</text>
<text x="599.20" y="21.35" font-size="7.0" fill="#3b52a6" color="#3b52a6" stroke-width="0.12" textLength="40.00" lengthAdjust="spacingAndGlyphs">Median days=NE</text>
<text x="599.20" y="28.75" font-size="7.0" fill="#3b52a6" color="#3b52a6" stroke-width="0.12" textLength="37.60" lengthAdjust="spacingAndGlyphs">95% CI, NE–NE</text>
<text x="651.10" y="72.05" font-size="7.0" fill="#222" color="#222" stroke-width="0.12" textLength="40.30" lengthAdjust="spacingAndGlyphs">Hazard Ratio=1.3</text>
<text x="651.10" y="79.95" font-size="7.0" fill="#222" color="#222" stroke-width="0.12" textLength="36.00" lengthAdjust="spacingAndGlyphs">95% CI, 1.1-1.5</text>
<text x="651.10" y="87.15" font-size="7" fill="#222" color="#222" stroke-width="0.12" textLength="22.3" lengthAdjust="spacingAndGlyphs"><tspan font-style="italic">P</tspan>=0.0025</text>
<polyline points="431.40,136.54 462.69,136.54 462.69,136.17 473.12,136.17 473.12,135.08 483.55,135.08 483.55,133.87 493.98,133.87 493.98,133.26 504.41,133.26 504.41,132.53 514.84,132.53 514.84,131.68 525.27,131.68 525.27,129.38 535.70,129.38 535.70,127.44 546.13,127.44 546.13,125.98 556.56,125.98 556.56,123.19 566.99,123.19 566.99,121.74 577.42,121.74 577.42,118.71 587.85,118.71 587.85,117.49 598.28,117.49 598.28,116.89 608.71,116.89 608.71,114.22 619.14,114.22 619.14,113.00 629.57,113.00 629.57,110.82 640.00,110.82 640.00,109.24 650.43,109.24 650.43,107.91 660.86,107.91 660.86,106.21 671.29,106.21 671.29,105.00 681.72,105.00 681.72,103.66 693.00,103.66" fill="none" stroke="#3147a0" stroke-width="0.85" stroke-linejoin="miter"/>
<polyline points="431.40,136.54 462.69,136.54 462.69,135.08 473.12,135.08 473.12,134.35 483.55,134.35 483.55,132.78 493.98,132.78 493.98,131.81 504.41,131.81 504.41,129.86 514.84,129.86 514.84,128.65 525.27,128.65 525.27,126.35 535.70,126.35 535.70,124.28 546.13,124.28 546.13,122.47 556.56,122.47 556.56,117.49 566.99,117.49 566.99,114.70 577.42,114.70 577.42,112.40 587.85,112.40 587.85,109.36 598.28,109.36 598.28,108.27 608.71,108.27 608.71,106.21 619.14,106.21 619.14,105.00 629.57,105.00 629.57,103.30 640.00,103.30 640.00,101.48 650.43,101.48 650.43,99.90 660.86,99.90 660.86,98.21 671.29,98.21 671.29,97.23 681.72,97.23 681.72,96.63 693.00,96.63" fill="none" stroke="#bf2535" stroke-width="0.85" stroke-linejoin="miter"/>
<text x="380.00" y="159.16" font-size="5.6" fill="#222" color="#222" stroke-width="0.12" textLength="22.00" lengthAdjust="spacingAndGlyphs">No. at risk:</text>
<text x="380.00" y="165.96" font-size="5.6" fill="#c42a36" color="#c42a36" stroke-width="0.12" textLength="42.40" lengthAdjust="spacingAndGlyphs">Nirmatrelvir/Ritonavir</text>
<text x="380.00" y="172.96" font-size="5.6" fill="#3b52a6" color="#3b52a6" stroke-width="0.12" textLength="17.20" lengthAdjust="spacingAndGlyphs">Placebo</text>
<text x="431.40" y="166.38" font-size="6.5" fill="#c42a36" color="#c42a36" stroke-width="0" text-anchor="middle" textLength="10.70" lengthAdjust="spacingAndGlyphs">1001</text>
<text x="431.40" y="173.28" font-size="6.5" fill="#3b52a6" color="#3b52a6" stroke-width="0" text-anchor="middle" textLength="10.70" lengthAdjust="spacingAndGlyphs">1021</text>
<text x="452.26" y="166.38" font-size="6.5" fill="#c42a36" color="#c42a36" stroke-width="0" text-anchor="middle" textLength="8.03" lengthAdjust="spacingAndGlyphs">987</text>
<text x="452.26" y="173.28" font-size="6.5" fill="#3b52a6" color="#3b52a6" stroke-width="0" text-anchor="middle" textLength="10.70" lengthAdjust="spacingAndGlyphs">1010</text>
<text x="473.12" y="166.38" font-size="6.5" fill="#c42a36" color="#c42a36" stroke-width="0" text-anchor="middle" textLength="8.03" lengthAdjust="spacingAndGlyphs">956</text>
<text x="473.12" y="173.28" font-size="6.5" fill="#3b52a6" color="#3b52a6" stroke-width="0" text-anchor="middle" textLength="8.03" lengthAdjust="spacingAndGlyphs">986</text>
<text x="493.98" y="166.38" font-size="6.5" fill="#c42a36" color="#c42a36" stroke-width="0" text-anchor="middle" textLength="8.03" lengthAdjust="spacingAndGlyphs">934</text>
<text x="493.98" y="173.28" font-size="6.5" fill="#3b52a6" color="#3b52a6" stroke-width="0" text-anchor="middle" textLength="8.03" lengthAdjust="spacingAndGlyphs">971</text>
<text x="514.84" y="166.38" font-size="6.5" fill="#c42a36" color="#c42a36" stroke-width="0" text-anchor="middle" textLength="8.03" lengthAdjust="spacingAndGlyphs">903</text>
<text x="514.84" y="173.28" font-size="6.5" fill="#3b52a6" color="#3b52a6" stroke-width="0" text-anchor="middle" textLength="8.03" lengthAdjust="spacingAndGlyphs">947</text>
<text x="535.70" y="166.38" font-size="6.5" fill="#c42a36" color="#c42a36" stroke-width="0" text-anchor="middle" textLength="8.03" lengthAdjust="spacingAndGlyphs">868</text>
<text x="535.70" y="173.28" font-size="6.5" fill="#3b52a6" color="#3b52a6" stroke-width="0" text-anchor="middle" textLength="8.03" lengthAdjust="spacingAndGlyphs">922</text>
<text x="556.56" y="166.38" font-size="6.5" fill="#c42a36" color="#c42a36" stroke-width="0" text-anchor="middle" textLength="8.03" lengthAdjust="spacingAndGlyphs">834</text>
<text x="556.56" y="173.28" font-size="6.5" fill="#3b52a6" color="#3b52a6" stroke-width="0" text-anchor="middle" textLength="8.03" lengthAdjust="spacingAndGlyphs">887</text>
<text x="577.42" y="166.38" font-size="6.5" fill="#c42a36" color="#c42a36" stroke-width="0" text-anchor="middle" textLength="8.03" lengthAdjust="spacingAndGlyphs">770</text>
<text x="577.42" y="173.28" font-size="6.5" fill="#3b52a6" color="#3b52a6" stroke-width="0" text-anchor="middle" textLength="8.03" lengthAdjust="spacingAndGlyphs">844</text>
<text x="598.28" y="166.38" font-size="6.5" fill="#c42a36" color="#c42a36" stroke-width="0" text-anchor="middle" textLength="8.03" lengthAdjust="spacingAndGlyphs">723</text>
<text x="598.28" y="173.28" font-size="6.5" fill="#3b52a6" color="#3b52a6" stroke-width="0" text-anchor="middle" textLength="8.03" lengthAdjust="spacingAndGlyphs">810</text>
<text x="619.14" y="166.38" font-size="6.5" fill="#c42a36" color="#c42a36" stroke-width="0" text-anchor="middle" textLength="8.03" lengthAdjust="spacingAndGlyphs">691</text>
<text x="619.14" y="173.28" font-size="6.5" fill="#3b52a6" color="#3b52a6" stroke-width="0" text-anchor="middle" textLength="8.03" lengthAdjust="spacingAndGlyphs">769</text>
<text x="640.00" y="166.38" font-size="6.5" fill="#c42a36" color="#c42a36" stroke-width="0" text-anchor="middle" textLength="8.03" lengthAdjust="spacingAndGlyphs">659</text>
<text x="640.00" y="173.28" font-size="6.5" fill="#3b52a6" color="#3b52a6" stroke-width="0" text-anchor="middle" textLength="8.03" lengthAdjust="spacingAndGlyphs">749</text>
<text x="660.86" y="166.38" font-size="6.5" fill="#c42a36" color="#c42a36" stroke-width="0" text-anchor="middle" textLength="8.03" lengthAdjust="spacingAndGlyphs">631</text>
<text x="660.86" y="173.28" font-size="6.5" fill="#3b52a6" color="#3b52a6" stroke-width="0" text-anchor="middle" textLength="8.03" lengthAdjust="spacingAndGlyphs">716</text>
<text x="681.72" y="166.38" font-size="6.5" fill="#c42a36" color="#c42a36" stroke-width="0" text-anchor="middle" textLength="8.03" lengthAdjust="spacingAndGlyphs">605</text>
<text x="681.72" y="173.28" font-size="6.5" fill="#3b52a6" color="#3b52a6" stroke-width="0" text-anchor="middle" textLength="8.03" lengthAdjust="spacingAndGlyphs">680</text>
<text x="3.00" y="210.66" font-size="15.6" fill="#111" color="#111" stroke-width="0.12" textLength="10.10" lengthAdjust="spacingAndGlyphs" font-weight="bold">C</text>
<line x1="33.30" y1="212.30" x2="33.30" y2="298.90" stroke="#3a3a3a" stroke-width="0.9"/>
<line x1="32.90" y1="298.50" x2="237.00" y2="298.50" stroke="#3a3a3a" stroke-width="0.9"/>
<line x1="31.30" y1="298.50" x2="33.30" y2="298.50" stroke="#3a3a3a" stroke-width="0.7"/>
<text x="30.50" y="300.04" font-size="4.4" fill="#666" color="#666" stroke-width="0" text-anchor="end" textLength="1.96" lengthAdjust="spacingAndGlyphs">0</text>
<line x1="31.30" y1="282.24" x2="33.30" y2="282.24" stroke="#3a3a3a" stroke-width="0.7"/>
<text x="30.50" y="283.78" font-size="4.4" fill="#666" color="#666" stroke-width="0" text-anchor="end" textLength="3.92" lengthAdjust="spacingAndGlyphs">20</text>
<line x1="31.30" y1="265.98" x2="33.30" y2="265.98" stroke="#3a3a3a" stroke-width="0.7"/>
<text x="30.50" y="267.52" font-size="4.4" fill="#666" color="#666" stroke-width="0" text-anchor="end" textLength="3.92" lengthAdjust="spacingAndGlyphs">40</text>
<line x1="31.30" y1="249.72" x2="33.30" y2="249.72" stroke="#3a3a3a" stroke-width="0.7"/>
<text x="30.50" y="251.26" font-size="4.4" fill="#666" color="#666" stroke-width="0" text-anchor="end" textLength="3.92" lengthAdjust="spacingAndGlyphs">60</text>
<line x1="31.30" y1="233.46" x2="33.30" y2="233.46" stroke="#3a3a3a" stroke-width="0.7"/>
<text x="30.50" y="235.00" font-size="4.4" fill="#666" color="#666" stroke-width="0" text-anchor="end" textLength="3.92" lengthAdjust="spacingAndGlyphs">80</text>
<line x1="31.30" y1="217.20" x2="33.30" y2="217.20" stroke="#3a3a3a" stroke-width="0.7"/>
<text x="30.50" y="218.74" font-size="4.4" fill="#666" color="#666" stroke-width="0" text-anchor="end" textLength="5.87" lengthAdjust="spacingAndGlyphs">100</text>
<line x1="33.30" y1="298.50" x2="33.30" y2="300.50" stroke="#3a3a3a" stroke-width="0.7"/>
<text x="33.30" y="305.14" font-size="4.4" fill="#666" color="#666" stroke-width="0" text-anchor="middle" textLength="1.96" lengthAdjust="spacingAndGlyphs">0</text>
<line x1="41.38" y1="298.50" x2="41.38" y2="300.50" stroke="#3a3a3a" stroke-width="0.7"/>
<line x1="49.46" y1="298.50" x2="49.46" y2="300.50" stroke="#3a3a3a" stroke-width="0.7"/>
<text x="49.46" y="305.14" font-size="4.4" fill="#666" color="#666" stroke-width="0" text-anchor="middle" textLength="1.96" lengthAdjust="spacingAndGlyphs">2</text>
<line x1="57.54" y1="298.50" x2="57.54" y2="300.50" stroke="#3a3a3a" stroke-width="0.7"/>
<line x1="65.62" y1="298.50" x2="65.62" y2="300.50" stroke="#3a3a3a" stroke-width="0.7"/>
<text x="65.62" y="305.14" font-size="4.4" fill="#666" color="#666" stroke-width="0" text-anchor="middle" textLength="1.96" lengthAdjust="spacingAndGlyphs">4</text>
<line x1="73.70" y1="298.50" x2="73.70" y2="300.50" stroke="#3a3a3a" stroke-width="0.7"/>
<line x1="81.78" y1="298.50" x2="81.78" y2="300.50" stroke="#3a3a3a" stroke-width="0.7"/>
<text x="81.78" y="305.14" font-size="4.4" fill="#666" color="#666" stroke-width="0" text-anchor="middle" textLength="1.96" lengthAdjust="spacingAndGlyphs">6</text>
<line x1="89.86" y1="298.50" x2="89.86" y2="300.50" stroke="#3a3a3a" stroke-width="0.7"/>
<line x1="97.94" y1="298.50" x2="97.94" y2="300.50" stroke="#3a3a3a" stroke-width="0.7"/>
<text x="97.94" y="305.14" font-size="4.4" fill="#666" color="#666" stroke-width="0" text-anchor="middle" textLength="1.96" lengthAdjust="spacingAndGlyphs">8</text>
<line x1="106.02" y1="298.50" x2="106.02" y2="300.50" stroke="#3a3a3a" stroke-width="0.7"/>
<line x1="114.10" y1="298.50" x2="114.10" y2="300.50" stroke="#3a3a3a" stroke-width="0.7"/>
<text x="114.10" y="305.14" font-size="4.4" fill="#666" color="#666" stroke-width="0" text-anchor="middle" textLength="3.92" lengthAdjust="spacingAndGlyphs">10</text>
<line x1="122.18" y1="298.50" x2="122.18" y2="300.50" stroke="#3a3a3a" stroke-width="0.7"/>
<line x1="130.26" y1="298.50" x2="130.26" y2="300.50" stroke="#3a3a3a" stroke-width="0.7"/>
<text x="130.26" y="305.14" font-size="4.4" fill="#666" color="#666" stroke-width="0" text-anchor="middle" textLength="3.92" lengthAdjust="spacingAndGlyphs">12</text>
<line x1="138.34" y1="298.50" x2="138.34" y2="300.50" stroke="#3a3a3a" stroke-width="0.7"/>
<line x1="146.42" y1="298.50" x2="146.42" y2="300.50" stroke="#3a3a3a" stroke-width="0.7"/>
<text x="146.42" y="305.14" font-size="4.4" fill="#666" color="#666" stroke-width="0" text-anchor="middle" textLength="3.92" lengthAdjust="spacingAndGlyphs">14</text>
<line x1="154.50" y1="298.50" x2="154.50" y2="300.50" stroke="#3a3a3a" stroke-width="0.7"/>
<line x1="162.58" y1="298.50" x2="162.58" y2="300.50" stroke="#3a3a3a" stroke-width="0.7"/>
<text x="162.58" y="305.14" font-size="4.4" fill="#666" color="#666" stroke-width="0" text-anchor="middle" textLength="3.92" lengthAdjust="spacingAndGlyphs">16</text>
<line x1="170.66" y1="298.50" x2="170.66" y2="300.50" stroke="#3a3a3a" stroke-width="0.7"/>
<line x1="178.74" y1="298.50" x2="178.74" y2="300.50" stroke="#3a3a3a" stroke-width="0.7"/>
<text x="178.74" y="305.14" font-size="4.4" fill="#666" color="#666" stroke-width="0" text-anchor="middle" textLength="3.92" lengthAdjust="spacingAndGlyphs">18</text>
<line x1="186.82" y1="298.50" x2="186.82" y2="300.50" stroke="#3a3a3a" stroke-width="0.7"/>
<line x1="194.90" y1="298.50" x2="194.90" y2="300.50" stroke="#3a3a3a" stroke-width="0.7"/>
<text x="194.90" y="305.14" font-size="4.4" fill="#666" color="#666" stroke-width="0" text-anchor="middle" textLength="3.92" lengthAdjust="spacingAndGlyphs">20</text>
<line x1="202.98" y1="298.50" x2="202.98" y2="300.50" stroke="#3a3a3a" stroke-width="0.7"/>
<line x1="211.06" y1="298.50" x2="211.06" y2="300.50" stroke="#3a3a3a" stroke-width="0.7"/>
<text x="211.06" y="305.14" font-size="4.4" fill="#666" color="#666" stroke-width="0" text-anchor="middle" textLength="3.92" lengthAdjust="spacingAndGlyphs">22</text>
<line x1="219.14" y1="298.50" x2="219.14" y2="300.50" stroke="#3a3a3a" stroke-width="0.7"/>
<line x1="227.22" y1="298.50" x2="227.22" y2="300.50" stroke="#3a3a3a" stroke-width="0.7"/>
<text x="227.22" y="305.14" font-size="4.4" fill="#666" color="#666" stroke-width="0" text-anchor="middle" textLength="3.92" lengthAdjust="spacingAndGlyphs">24</text>
<line x1="235.30" y1="298.50" x2="235.30" y2="300.50" stroke="#3a3a3a" stroke-width="0.7"/>
<g transform="translate(12.90 258.15) rotate(-90)"><text x="0" y="1.61" font-size="4.6" fill="#2a2a2a" color="#2a2a2a" stroke-width="0" text-anchor="middle" font-weight="bold" textLength="82.30" lengthAdjust="spacingAndGlyphs">Percentage of Patients Achieving Sustained</text></g>
<g transform="translate(18.30 257.85) rotate(-90)"><text x="0" y="1.61" font-size="4.6" fill="#2a2a2a" color="#2a2a2a" stroke-width="0" text-anchor="middle" font-weight="bold" textLength="69.70" lengthAdjust="spacingAndGlyphs">Resolution of Any Overall Symptoms</text></g>
<line x1="46.00" y1="217.50" x2="62.70" y2="217.50" stroke="#bf2535" stroke-width="1.0"/>
<path d="M54.70 215.40L56.90 217.60L54.70 219.80L52.50 217.60Z" fill="#bf2535"/>
<text x="63.30" y="219.35" font-size="5.0" fill="#c42a36" color="#c42a36" stroke-width="0.05" textLength="68.00" lengthAdjust="spacingAndGlyphs">Nirmatrelvir 300 mg + Ritonavir 100 mg</text>
<text x="63.30" y="225.05" font-size="5.0" fill="#c42a36" color="#c42a36" stroke-width="0.05" textLength="28.70" lengthAdjust="spacingAndGlyphs">Median days=15</text>
<text x="63.30" y="230.75" font-size="5.0" fill="#c42a36" color="#c42a36" stroke-width="0.05" textLength="26.00" lengthAdjust="spacingAndGlyphs">95% CI, 14–16</text>
<line x1="143.10" y1="217.50" x2="160.40" y2="217.50" stroke="#3147a0" stroke-width="1.0"/>
<rect x="150.00" y="215.90" width="3.20" height="3.20" fill="#3147a0"/>
<text x="163.10" y="219.25" font-size="5.0" fill="#3b52a6" color="#3b52a6" stroke-width="0.05" textLength="13.80" lengthAdjust="spacingAndGlyphs">Placebo</text>
<text x="163.10" y="225.05" font-size="5.0" fill="#3b52a6" color="#3b52a6" stroke-width="0.05" textLength="28.90" lengthAdjust="spacingAndGlyphs">Median days=19</text>
<text x="163.10" y="230.75" font-size="5.0" fill="#3b52a6" color="#3b52a6" stroke-width="0.05" textLength="25.60" lengthAdjust="spacingAndGlyphs">95% CI, 17–20</text>
<text x="207.10" y="285.55" font-size="5.0" fill="#222" color="#222" stroke-width="0.05" textLength="30.30" lengthAdjust="spacingAndGlyphs">Hazard Ratio=1.2</text>
<text x="207.10" y="290.95" font-size="5.0" fill="#222" color="#222" stroke-width="0.05" textLength="26.60" lengthAdjust="spacingAndGlyphs">95% CI, 1.1-1.3</text>
<text x="207.10" y="296.35" font-size="5.0" fill="#222" color="#222" stroke-width="0.05" textLength="17.30" lengthAdjust="spacingAndGlyphs">P=0.0002</text>
<text x="111.60" y="309.61" font-size="4.9" fill="#111" color="#111" stroke-width="0" textLength="51.70" lengthAdjust="spacingAndGlyphs" font-weight="bold">Time to Sustained Resolution, d</text>
<polyline points="33.30,298.50 49.46,298.50 49.46,295.00 57.54,295.00 57.54,293.05 65.62,293.05 65.62,291.02 73.70,291.02 73.70,289.07 81.78,289.07 81.78,287.12 89.86,287.12 89.86,284.11 97.94,284.11 97.94,280.45 106.02,280.45 106.02,277.61 114.10,277.61 114.10,275.17 122.18,275.17 122.18,271.43 130.26,271.43 130.26,265.82 138.34,265.82 138.34,262.65 146.42,262.65 146.42,259.31 154.50,259.31 154.50,256.31 162.58,256.31 162.58,254.19 170.66,254.19 170.66,252.00 178.74,252.00 178.74,250.29 186.82,250.29 186.82,248.18 194.90,248.18 194.90,246.39 202.98,246.39 202.98,244.92 211.06,244.92 211.06,243.87 219.14,243.87 219.14,242.81 227.22,242.81 227.22,241.75 235.30,241.75 235.30,241.10 235.50,241.10" fill="none" stroke="#bf2535" stroke-width="0.8" stroke-linejoin="miter"/>
<polyline points="33.30,298.50 49.46,298.50 49.46,296.39 57.54,296.39 57.54,294.44 65.62,294.44 65.62,292.40 73.70,292.40 73.70,291.02 81.78,291.02 81.78,289.07 89.86,289.07 89.86,286.47 97.94,286.47 97.94,284.52 106.02,284.52 106.02,282.08 114.10,282.08 114.10,280.04 122.18,280.04 122.18,276.63 130.26,276.63 130.26,272.97 138.34,272.97 138.34,269.31 146.42,269.31 146.42,265.82 154.50,265.82 154.50,263.22 162.58,263.22 162.58,260.61 170.66,260.61 170.66,257.85 178.74,257.85 178.74,255.74 186.82,255.74 186.82,253.54 194.90,253.54 194.90,252.08 202.98,252.08 202.98,250.29 211.06,250.29 211.06,249.31 219.14,249.31 219.14,248.18 227.22,248.18 227.22,247.12 235.30,247.12 235.30,246.47 235.50,246.47" fill="none" stroke="#3147a0" stroke-width="0.8" stroke-linejoin="miter"/>
<text x="0.50" y="313.34" font-size="4.4" fill="#222" color="#222" stroke-width="0.05" textLength="14.40" lengthAdjust="spacingAndGlyphs">No. at risk:</text>
<text x="0.50" y="318.14" font-size="4.4" fill="#c42a36" color="#c42a36" stroke-width="0.03" textLength="28.20" lengthAdjust="spacingAndGlyphs">Nirmatrelvir/Ritonavir</text>
<text x="0.50" y="322.54" font-size="4.4" fill="#3b52a6" color="#3b52a6" stroke-width="0.03" textLength="11.70" lengthAdjust="spacingAndGlyphs">Placebo</text>
<text x="33.30" y="318.14" font-size="4.4" fill="#c42a36" color="#c42a36" stroke-width="0.05" text-anchor="middle" textLength="6.46" lengthAdjust="spacingAndGlyphs">1001</text>
<text x="33.30" y="322.54" font-size="4.4" fill="#3b52a6" color="#3b52a6" stroke-width="0.05" text-anchor="middle" textLength="6.46" lengthAdjust="spacingAndGlyphs">1021</text>
<text x="49.46" y="318.14" font-size="4.4" fill="#c42a36" color="#c42a36" stroke-width="0.05" text-anchor="middle" textLength="4.85" lengthAdjust="spacingAndGlyphs">987</text>
<text x="49.46" y="322.54" font-size="4.4" fill="#3b52a6" color="#3b52a6" stroke-width="0.05" text-anchor="middle" textLength="6.46" lengthAdjust="spacingAndGlyphs">1010</text>
<text x="65.62" y="318.14" font-size="4.4" fill="#c42a36" color="#c42a36" stroke-width="0.05" text-anchor="middle" textLength="4.63" lengthAdjust="spacingAndGlyphs">911</text>
<text x="65.62" y="322.54" font-size="4.4" fill="#3b52a6" color="#3b52a6" stroke-width="0.05" text-anchor="middle" textLength="4.85" lengthAdjust="spacingAndGlyphs">946</text>
<text x="81.78" y="318.14" font-size="4.4" fill="#c42a36" color="#c42a36" stroke-width="0.05" text-anchor="middle" textLength="4.85" lengthAdjust="spacingAndGlyphs">856</text>
<text x="81.78" y="322.54" font-size="4.4" fill="#3b52a6" color="#3b52a6" stroke-width="0.05" text-anchor="middle" textLength="4.85" lengthAdjust="spacingAndGlyphs">903</text>
<text x="97.94" y="318.14" font-size="4.4" fill="#c42a36" color="#c42a36" stroke-width="0.05" text-anchor="middle" textLength="4.85" lengthAdjust="spacingAndGlyphs">787</text>
<text x="97.94" y="322.54" font-size="4.4" fill="#3b52a6" color="#3b52a6" stroke-width="0.05" text-anchor="middle" textLength="4.85" lengthAdjust="spacingAndGlyphs">841</text>
<text x="114.10" y="318.14" font-size="4.4" fill="#c42a36" color="#c42a36" stroke-width="0.05" text-anchor="middle" textLength="4.85" lengthAdjust="spacingAndGlyphs">712</text>
<text x="114.10" y="322.54" font-size="4.4" fill="#3b52a6" color="#3b52a6" stroke-width="0.05" text-anchor="middle" textLength="4.85" lengthAdjust="spacingAndGlyphs">790</text>
<text x="130.26" y="318.14" font-size="4.4" fill="#c42a36" color="#c42a36" stroke-width="0.05" text-anchor="middle" textLength="4.85" lengthAdjust="spacingAndGlyphs">634</text>
<text x="130.26" y="322.54" font-size="4.4" fill="#3b52a6" color="#3b52a6" stroke-width="0.05" text-anchor="middle" textLength="4.85" lengthAdjust="spacingAndGlyphs">734</text>
<text x="146.42" y="318.14" font-size="4.4" fill="#c42a36" color="#c42a36" stroke-width="0.05" text-anchor="middle" textLength="4.85" lengthAdjust="spacingAndGlyphs">532</text>
<text x="146.42" y="322.54" font-size="4.4" fill="#3b52a6" color="#3b52a6" stroke-width="0.05" text-anchor="middle" textLength="4.85" lengthAdjust="spacingAndGlyphs">619</text>
<text x="162.58" y="318.14" font-size="4.4" fill="#c42a36" color="#c42a36" stroke-width="0.05" text-anchor="middle" textLength="4.85" lengthAdjust="spacingAndGlyphs">450</text>
<text x="162.58" y="322.54" font-size="4.4" fill="#3b52a6" color="#3b52a6" stroke-width="0.05" text-anchor="middle" textLength="4.85" lengthAdjust="spacingAndGlyphs">551</text>
<text x="178.74" y="318.14" font-size="4.4" fill="#c42a36" color="#c42a36" stroke-width="0.05" text-anchor="middle" textLength="4.85" lengthAdjust="spacingAndGlyphs">398</text>
<text x="178.74" y="322.54" font-size="4.4" fill="#3b52a6" color="#3b52a6" stroke-width="0.05" text-anchor="middle" textLength="4.85" lengthAdjust="spacingAndGlyphs">495</text>
<text x="194.90" y="318.14" font-size="4.4" fill="#c42a36" color="#c42a36" stroke-width="0.05" text-anchor="middle" textLength="4.85" lengthAdjust="spacingAndGlyphs">351</text>
<text x="194.90" y="322.54" font-size="4.4" fill="#3b52a6" color="#3b52a6" stroke-width="0.05" text-anchor="middle" textLength="4.85" lengthAdjust="spacingAndGlyphs">446</text>
<text x="211.06" y="318.14" font-size="4.4" fill="#c42a36" color="#c42a36" stroke-width="0.05" text-anchor="middle" textLength="4.85" lengthAdjust="spacingAndGlyphs">309</text>
<text x="211.06" y="322.54" font-size="4.4" fill="#3b52a6" color="#3b52a6" stroke-width="0.05" text-anchor="middle" textLength="4.85" lengthAdjust="spacingAndGlyphs">401</text>
<text x="227.22" y="318.14" font-size="4.4" fill="#c42a36" color="#c42a36" stroke-width="0.05" text-anchor="middle" textLength="4.85" lengthAdjust="spacingAndGlyphs">279</text>
<text x="227.22" y="322.54" font-size="4.4" fill="#3b52a6" color="#3b52a6" stroke-width="0.05" text-anchor="middle" textLength="4.85" lengthAdjust="spacingAndGlyphs">357</text>
<text x="249.00" y="210.66" font-size="15.6" fill="#111" color="#111" stroke-width="0.12" textLength="9.10" lengthAdjust="spacingAndGlyphs" font-weight="bold">D</text>
<line x1="277.90" y1="212.30" x2="277.90" y2="298.90" stroke="#3a3a3a" stroke-width="0.9"/>
<line x1="277.50" y1="298.50" x2="482.00" y2="298.50" stroke="#3a3a3a" stroke-width="0.9"/>
<line x1="275.90" y1="298.50" x2="277.90" y2="298.50" stroke="#3a3a3a" stroke-width="0.7"/>
<text x="275.10" y="300.04" font-size="4.4" fill="#666" color="#666" stroke-width="0" text-anchor="end" textLength="1.96" lengthAdjust="spacingAndGlyphs">0</text>
<line x1="275.90" y1="282.24" x2="277.90" y2="282.24" stroke="#3a3a3a" stroke-width="0.7"/>
<text x="275.10" y="283.78" font-size="4.4" fill="#666" color="#666" stroke-width="0" text-anchor="end" textLength="3.92" lengthAdjust="spacingAndGlyphs">20</text>
<line x1="275.90" y1="265.98" x2="277.90" y2="265.98" stroke="#3a3a3a" stroke-width="0.7"/>
<text x="275.10" y="267.52" font-size="4.4" fill="#666" color="#666" stroke-width="0" text-anchor="end" textLength="3.92" lengthAdjust="spacingAndGlyphs">40</text>
<line x1="275.90" y1="249.72" x2="277.90" y2="249.72" stroke="#3a3a3a" stroke-width="0.7"/>
<text x="275.10" y="251.26" font-size="4.4" fill="#666" color="#666" stroke-width="0" text-anchor="end" textLength="3.92" lengthAdjust="spacingAndGlyphs">60</text>
<line x1="275.90" y1="233.46" x2="277.90" y2="233.46" stroke="#3a3a3a" stroke-width="0.7"/>
<text x="275.10" y="235.00" font-size="4.4" fill="#666" color="#666" stroke-width="0" text-anchor="end" textLength="3.92" lengthAdjust="spacingAndGlyphs">80</text>
<line x1="275.90" y1="217.20" x2="277.90" y2="217.20" stroke="#3a3a3a" stroke-width="0.7"/>
<text x="275.10" y="218.74" font-size="4.4" fill="#666" color="#666" stroke-width="0" text-anchor="end" textLength="5.87" lengthAdjust="spacingAndGlyphs">100</text>
<line x1="277.90" y1="298.50" x2="277.90" y2="300.50" stroke="#3a3a3a" stroke-width="0.7"/>
<text x="277.90" y="305.14" font-size="4.4" fill="#666" color="#666" stroke-width="0" text-anchor="middle" textLength="1.96" lengthAdjust="spacingAndGlyphs">0</text>
<line x1="285.98" y1="298.50" x2="285.98" y2="300.50" stroke="#3a3a3a" stroke-width="0.7"/>
<line x1="294.06" y1="298.50" x2="294.06" y2="300.50" stroke="#3a3a3a" stroke-width="0.7"/>
<text x="294.06" y="305.14" font-size="4.4" fill="#666" color="#666" stroke-width="0" text-anchor="middle" textLength="1.96" lengthAdjust="spacingAndGlyphs">2</text>
<line x1="302.14" y1="298.50" x2="302.14" y2="300.50" stroke="#3a3a3a" stroke-width="0.7"/>
<line x1="310.22" y1="298.50" x2="310.22" y2="300.50" stroke="#3a3a3a" stroke-width="0.7"/>
<text x="310.22" y="305.14" font-size="4.4" fill="#666" color="#666" stroke-width="0" text-anchor="middle" textLength="1.96" lengthAdjust="spacingAndGlyphs">4</text>
<line x1="318.30" y1="298.50" x2="318.30" y2="300.50" stroke="#3a3a3a" stroke-width="0.7"/>
<line x1="326.38" y1="298.50" x2="326.38" y2="300.50" stroke="#3a3a3a" stroke-width="0.7"/>
<text x="326.38" y="305.14" font-size="4.4" fill="#666" color="#666" stroke-width="0" text-anchor="middle" textLength="1.96" lengthAdjust="spacingAndGlyphs">6</text>
<line x1="334.46" y1="298.50" x2="334.46" y2="300.50" stroke="#3a3a3a" stroke-width="0.7"/>
<line x1="342.54" y1="298.50" x2="342.54" y2="300.50" stroke="#3a3a3a" stroke-width="0.7"/>
<text x="342.54" y="305.14" font-size="4.4" fill="#666" color="#666" stroke-width="0" text-anchor="middle" textLength="1.96" lengthAdjust="spacingAndGlyphs">8</text>
<line x1="350.62" y1="298.50" x2="350.62" y2="300.50" stroke="#3a3a3a" stroke-width="0.7"/>
<line x1="358.70" y1="298.50" x2="358.70" y2="300.50" stroke="#3a3a3a" stroke-width="0.7"/>
<text x="358.70" y="305.14" font-size="4.4" fill="#666" color="#666" stroke-width="0" text-anchor="middle" textLength="3.92" lengthAdjust="spacingAndGlyphs">10</text>
<line x1="366.78" y1="298.50" x2="366.78" y2="300.50" stroke="#3a3a3a" stroke-width="0.7"/>
<line x1="374.86" y1="298.50" x2="374.86" y2="300.50" stroke="#3a3a3a" stroke-width="0.7"/>
<text x="374.86" y="305.14" font-size="4.4" fill="#666" color="#666" stroke-width="0" text-anchor="middle" textLength="3.92" lengthAdjust="spacingAndGlyphs">12</text>
<line x1="382.94" y1="298.50" x2="382.94" y2="300.50" stroke="#3a3a3a" stroke-width="0.7"/>
<line x1="391.02" y1="298.50" x2="391.02" y2="300.50" stroke="#3a3a3a" stroke-width="0.7"/>
<text x="391.02" y="305.14" font-size="4.4" fill="#666" color="#666" stroke-width="0" text-anchor="middle" textLength="3.92" lengthAdjust="spacingAndGlyphs">14</text>
<line x1="399.10" y1="298.50" x2="399.10" y2="300.50" stroke="#3a3a3a" stroke-width="0.7"/>
<line x1="407.18" y1="298.50" x2="407.18" y2="300.50" stroke="#3a3a3a" stroke-width="0.7"/>
<text x="407.18" y="305.14" font-size="4.4" fill="#666" color="#666" stroke-width="0" text-anchor="middle" textLength="3.92" lengthAdjust="spacingAndGlyphs">16</text>
<line x1="415.26" y1="298.50" x2="415.26" y2="300.50" stroke="#3a3a3a" stroke-width="0.7"/>
<line x1="423.34" y1="298.50" x2="423.34" y2="300.50" stroke="#3a3a3a" stroke-width="0.7"/>
<text x="423.34" y="305.14" font-size="4.4" fill="#666" color="#666" stroke-width="0" text-anchor="middle" textLength="3.92" lengthAdjust="spacingAndGlyphs">18</text>
<line x1="431.42" y1="298.50" x2="431.42" y2="300.50" stroke="#3a3a3a" stroke-width="0.7"/>
<line x1="439.50" y1="298.50" x2="439.50" y2="300.50" stroke="#3a3a3a" stroke-width="0.7"/>
<text x="439.50" y="305.14" font-size="4.4" fill="#666" color="#666" stroke-width="0" text-anchor="middle" textLength="3.92" lengthAdjust="spacingAndGlyphs">20</text>
<line x1="447.58" y1="298.50" x2="447.58" y2="300.50" stroke="#3a3a3a" stroke-width="0.7"/>
<line x1="455.66" y1="298.50" x2="455.66" y2="300.50" stroke="#3a3a3a" stroke-width="0.7"/>
<text x="455.66" y="305.14" font-size="4.4" fill="#666" color="#666" stroke-width="0" text-anchor="middle" textLength="3.92" lengthAdjust="spacingAndGlyphs">22</text>
<line x1="463.74" y1="298.50" x2="463.74" y2="300.50" stroke="#3a3a3a" stroke-width="0.7"/>
<line x1="471.82" y1="298.50" x2="471.82" y2="300.50" stroke="#3a3a3a" stroke-width="0.7"/>
<text x="471.82" y="305.14" font-size="4.4" fill="#666" color="#666" stroke-width="0" text-anchor="middle" textLength="3.92" lengthAdjust="spacingAndGlyphs">24</text>
<line x1="479.90" y1="298.50" x2="479.90" y2="300.50" stroke="#3a3a3a" stroke-width="0.7"/>
<g transform="translate(258.10 258.20) rotate(-90)"><text x="0" y="1.61" font-size="4.6" fill="#2a2a2a" color="#2a2a2a" stroke-width="0" text-anchor="middle" font-weight="bold" textLength="82.00" lengthAdjust="spacingAndGlyphs">Percentage of Patients Achieving Sustained</text></g>
<g transform="translate(264.30 258.20) rotate(-90)"><text x="0" y="1.61" font-size="4.6" fill="#2a2a2a" color="#2a2a2a" stroke-width="0" text-anchor="middle" font-weight="bold" textLength="69.60" lengthAdjust="spacingAndGlyphs">Alleviation of Any Overall Symptoms</text></g>
<line x1="290.70" y1="217.50" x2="307.30" y2="217.50" stroke="#bf2535" stroke-width="1.0"/>
<path d="M299.30 215.40L301.50 217.60L299.30 219.80L297.10 217.60Z" fill="#bf2535"/>
<text x="307.30" y="219.35" font-size="5.0" fill="#c42a36" color="#c42a36" stroke-width="0.05" textLength="68.70" lengthAdjust="spacingAndGlyphs">Nirmatrelvir 300 mg + Ritonavir 100 mg</text>
<text x="307.30" y="225.05" font-size="5.0" fill="#c42a36" color="#c42a36" stroke-width="0.05" textLength="26.50" lengthAdjust="spacingAndGlyphs">Median days=8</text>
<text x="307.30" y="230.75" font-size="5.0" fill="#c42a36" color="#c42a36" stroke-width="0.05" textLength="21.50" lengthAdjust="spacingAndGlyphs">95% CI, 7–9</text>
<line x1="388.00" y1="217.50" x2="404.70" y2="217.50" stroke="#3147a0" stroke-width="1.0"/>
<rect x="395.10" y="215.90" width="3.20" height="3.20" fill="#3147a0"/>
<text x="407.30" y="219.25" font-size="5.0" fill="#3b52a6" color="#3b52a6" stroke-width="0.05" textLength="14.00" lengthAdjust="spacingAndGlyphs">Placebo</text>
<text x="407.30" y="225.05" font-size="5.0" fill="#3b52a6" color="#3b52a6" stroke-width="0.05" textLength="28.70" lengthAdjust="spacingAndGlyphs">Median days=10</text>
<text x="407.30" y="230.75" font-size="5.0" fill="#3b52a6" color="#3b52a6" stroke-width="0.05" textLength="24.00" lengthAdjust="spacingAndGlyphs">95% CI, 9–11</text>
<text x="451.00" y="285.65" font-size="5.0" fill="#222" color="#222" stroke-width="0.05" textLength="31.50" lengthAdjust="spacingAndGlyphs">Hazard Ratio=1.2</text>
<text x="451.00" y="290.95" font-size="5.0" fill="#222" color="#222" stroke-width="0.05" textLength="27.00" lengthAdjust="spacingAndGlyphs">95% CI, 1.1-1.3</text>
<text x="451.00" y="296.25" font-size="5.0" fill="#222" color="#222" stroke-width="0.05" textLength="18.00" lengthAdjust="spacingAndGlyphs">P&lt;0.0001</text>
<text x="356.00" y="309.61" font-size="4.9" fill="#111" color="#111" stroke-width="0" textLength="51.00" lengthAdjust="spacingAndGlyphs" font-weight="bold">Time to Sustained Alleviation, d</text>
<polyline points="277.90,298.50 294.06,298.50 294.06,285.17 302.14,285.17 302.14,277.20 310.22,277.20 310.22,272.24 318.30,272.24 318.30,268.58 326.38,268.58 326.38,264.19 334.46,264.19 334.46,260.70 342.54,260.70 342.54,256.79 350.62,256.79 350.62,253.05 358.70,253.05 358.70,249.72 366.78,249.72 366.78,247.28 374.86,247.28 374.86,244.03 382.94,244.03 382.94,241.59 391.02,241.59 391.02,239.15 399.10,239.15 399.10,237.44 407.18,237.44 407.18,235.90 415.26,235.90 415.26,234.44 423.34,234.44 423.34,233.46 431.42,233.46 431.42,232.48 439.50,232.48 439.50,231.83 447.58,231.83 447.58,231.02 455.66,231.02 455.66,230.29 463.74,230.29 463.74,229.80 471.82,229.80 471.82,229.31 480.50,229.31" fill="none" stroke="#bf2535" stroke-width="0.8" stroke-linejoin="miter"/>
<polyline points="277.90,298.50 294.06,298.50 294.06,287.52 302.14,287.52 302.14,282.57 310.22,282.57 310.22,278.34 318.30,278.34 318.30,274.03 326.38,274.03 326.38,271.02 334.46,271.02 334.46,266.87 342.54,266.87 342.54,263.70 350.62,263.70 350.62,260.45 358.70,260.45 358.70,256.22 366.78,256.22 366.78,253.87 374.86,253.87 374.86,250.21 382.94,250.21 382.94,247.28 391.02,247.28 391.02,244.76 399.10,244.76 399.10,242.32 407.18,242.32 407.18,240.37 415.26,240.37 415.26,239.15 423.34,239.15 423.34,237.93 431.42,237.93 431.42,237.12 439.50,237.12 439.50,236.14 447.58,236.14 447.58,235.41 455.66,235.41 455.66,234.92 463.74,234.92 463.74,234.44 471.82,234.44 471.82,234.19 480.50,234.19" fill="none" stroke="#3147a0" stroke-width="0.8" stroke-linejoin="miter"/>
<text x="245.00" y="313.34" font-size="4.4" fill="#222" color="#222" stroke-width="0.05" textLength="14.40" lengthAdjust="spacingAndGlyphs">No. at risk:</text>
<text x="245.00" y="318.14" font-size="4.4" fill="#c42a36" color="#c42a36" stroke-width="0.03" textLength="28.20" lengthAdjust="spacingAndGlyphs">Nirmatrelvir/Ritonavir</text>
<text x="245.00" y="322.54" font-size="4.4" fill="#3b52a6" color="#3b52a6" stroke-width="0.03" textLength="11.70" lengthAdjust="spacingAndGlyphs">Placebo</text>
<text x="277.90" y="318.14" font-size="4.4" fill="#c42a36" color="#c42a36" stroke-width="0.05" text-anchor="middle" textLength="6.46" lengthAdjust="spacingAndGlyphs">1001</text>
<text x="277.90" y="322.54" font-size="4.4" fill="#3b52a6" color="#3b52a6" stroke-width="0.05" text-anchor="middle" textLength="6.46" lengthAdjust="spacingAndGlyphs">1021</text>
<text x="294.06" y="318.14" font-size="4.4" fill="#c42a36" color="#c42a36" stroke-width="0.05" text-anchor="middle" textLength="4.85" lengthAdjust="spacingAndGlyphs">987</text>
<text x="294.06" y="322.54" font-size="4.4" fill="#3b52a6" color="#3b52a6" stroke-width="0.05" text-anchor="middle" textLength="6.46" lengthAdjust="spacingAndGlyphs">1010</text>
<text x="310.22" y="318.14" font-size="4.4" fill="#c42a36" color="#c42a36" stroke-width="0.05" text-anchor="middle" textLength="4.85" lengthAdjust="spacingAndGlyphs">725</text>
<text x="310.22" y="322.54" font-size="4.4" fill="#3b52a6" color="#3b52a6" stroke-width="0.05" text-anchor="middle" textLength="4.85" lengthAdjust="spacingAndGlyphs">801</text>
<text x="326.38" y="318.14" font-size="4.4" fill="#c42a36" color="#c42a36" stroke-width="0.05" text-anchor="middle" textLength="4.85" lengthAdjust="spacingAndGlyphs">663</text>
<text x="326.38" y="322.54" font-size="4.4" fill="#3b52a6" color="#3b52a6" stroke-width="0.05" text-anchor="middle" textLength="4.85" lengthAdjust="spacingAndGlyphs">690</text>
<text x="342.54" y="318.14" font-size="4.4" fill="#c42a36" color="#c42a36" stroke-width="0.05" text-anchor="middle" textLength="4.85" lengthAdjust="spacingAndGlyphs">563</text>
<text x="342.54" y="322.54" font-size="4.4" fill="#3b52a6" color="#3b52a6" stroke-width="0.05" text-anchor="middle" textLength="4.85" lengthAdjust="spacingAndGlyphs">591</text>
<text x="358.70" y="318.14" font-size="4.4" fill="#c42a36" color="#c42a36" stroke-width="0.05" text-anchor="middle" textLength="4.85" lengthAdjust="spacingAndGlyphs">410</text>
<text x="358.70" y="322.54" font-size="4.4" fill="#3b52a6" color="#3b52a6" stroke-width="0.05" text-anchor="middle" textLength="4.85" lengthAdjust="spacingAndGlyphs">503</text>
<text x="374.86" y="318.14" font-size="4.4" fill="#c42a36" color="#c42a36" stroke-width="0.05" text-anchor="middle" textLength="4.63" lengthAdjust="spacingAndGlyphs">311</text>
<text x="374.86" y="322.54" font-size="4.4" fill="#3b52a6" color="#3b52a6" stroke-width="0.05" text-anchor="middle" textLength="4.85" lengthAdjust="spacingAndGlyphs">443</text>
<text x="391.02" y="318.14" font-size="4.4" fill="#c42a36" color="#c42a36" stroke-width="0.05" text-anchor="middle" textLength="4.85" lengthAdjust="spacingAndGlyphs">268</text>
<text x="391.02" y="322.54" font-size="4.4" fill="#3b52a6" color="#3b52a6" stroke-width="0.05" text-anchor="middle" textLength="4.85" lengthAdjust="spacingAndGlyphs">369</text>
<text x="407.18" y="318.14" font-size="4.4" fill="#c42a36" color="#c42a36" stroke-width="0.05" text-anchor="middle" textLength="4.85" lengthAdjust="spacingAndGlyphs">215</text>
<text x="407.18" y="322.54" font-size="4.4" fill="#3b52a6" color="#3b52a6" stroke-width="0.05" text-anchor="middle" textLength="4.85" lengthAdjust="spacingAndGlyphs">306</text>
<text x="423.34" y="318.14" font-size="4.4" fill="#c42a36" color="#c42a36" stroke-width="0.05" text-anchor="middle" textLength="4.85" lengthAdjust="spacingAndGlyphs">180</text>
<text x="423.34" y="322.54" font-size="4.4" fill="#3b52a6" color="#3b52a6" stroke-width="0.05" text-anchor="middle" textLength="4.85" lengthAdjust="spacingAndGlyphs">254</text>
<text x="439.50" y="318.14" font-size="4.4" fill="#c42a36" color="#c42a36" stroke-width="0.05" text-anchor="middle" textLength="4.85" lengthAdjust="spacingAndGlyphs">164</text>
<text x="439.50" y="322.54" font-size="4.4" fill="#3b52a6" color="#3b52a6" stroke-width="0.05" text-anchor="middle" textLength="4.85" lengthAdjust="spacingAndGlyphs">224</text>
<text x="455.66" y="318.14" font-size="4.4" fill="#c42a36" color="#c42a36" stroke-width="0.05" text-anchor="middle" textLength="4.85" lengthAdjust="spacingAndGlyphs">142</text>
<text x="455.66" y="322.54" font-size="4.4" fill="#3b52a6" color="#3b52a6" stroke-width="0.05" text-anchor="middle" textLength="4.85" lengthAdjust="spacingAndGlyphs">219</text>
<text x="471.82" y="318.14" font-size="4.4" fill="#c42a36" color="#c42a36" stroke-width="0.05" text-anchor="middle" textLength="4.85" lengthAdjust="spacingAndGlyphs">128</text>
<text x="471.82" y="322.54" font-size="4.4" fill="#3b52a6" color="#3b52a6" stroke-width="0.05" text-anchor="middle" textLength="4.85" lengthAdjust="spacingAndGlyphs">190</text>
<text x="493.40" y="210.66" font-size="15.6" fill="#111" color="#111" stroke-width="0.12" textLength="8.40" lengthAdjust="spacingAndGlyphs" font-weight="bold">E</text>
<line x1="520.70" y1="212.30" x2="520.70" y2="298.90" stroke="#3a3a3a" stroke-width="0.9"/>
<line x1="520.30" y1="298.50" x2="749.00" y2="298.50" stroke="#3a3a3a" stroke-width="0.9"/>
<line x1="518.70" y1="298.50" x2="520.70" y2="298.50" stroke="#3a3a3a" stroke-width="0.7"/>
<text x="517.90" y="300.04" font-size="4.4" fill="#666" color="#666" stroke-width="0" text-anchor="end" textLength="1.96" lengthAdjust="spacingAndGlyphs">0</text>
<line x1="518.70" y1="282.24" x2="520.70" y2="282.24" stroke="#3a3a3a" stroke-width="0.7"/>
<text x="517.90" y="283.78" font-size="4.4" fill="#666" color="#666" stroke-width="0" text-anchor="end" textLength="3.92" lengthAdjust="spacingAndGlyphs">20</text>
<line x1="518.70" y1="265.98" x2="520.70" y2="265.98" stroke="#3a3a3a" stroke-width="0.7"/>
<text x="517.90" y="267.52" font-size="4.4" fill="#666" color="#666" stroke-width="0" text-anchor="end" textLength="3.92" lengthAdjust="spacingAndGlyphs">40</text>
<line x1="518.70" y1="249.72" x2="520.70" y2="249.72" stroke="#3a3a3a" stroke-width="0.7"/>
<text x="517.90" y="251.26" font-size="4.4" fill="#666" color="#666" stroke-width="0" text-anchor="end" textLength="3.92" lengthAdjust="spacingAndGlyphs">60</text>
<line x1="518.70" y1="233.46" x2="520.70" y2="233.46" stroke="#3a3a3a" stroke-width="0.7"/>
<text x="517.90" y="235.00" font-size="4.4" fill="#666" color="#666" stroke-width="0" text-anchor="end" textLength="3.92" lengthAdjust="spacingAndGlyphs">80</text>
<line x1="518.70" y1="217.20" x2="520.70" y2="217.20" stroke="#3a3a3a" stroke-width="0.7"/>
<text x="517.90" y="218.74" font-size="4.4" fill="#666" color="#666" stroke-width="0" text-anchor="end" textLength="5.87" lengthAdjust="spacingAndGlyphs">100</text>
<line x1="520.70" y1="298.50" x2="520.70" y2="300.50" stroke="#3a3a3a" stroke-width="0.7"/>
<text x="520.70" y="305.14" font-size="4.4" fill="#666" color="#666" stroke-width="0" text-anchor="middle" textLength="1.96" lengthAdjust="spacingAndGlyphs">0</text>
<line x1="528.78" y1="298.50" x2="528.78" y2="300.50" stroke="#3a3a3a" stroke-width="0.7"/>
<line x1="536.86" y1="298.50" x2="536.86" y2="300.50" stroke="#3a3a3a" stroke-width="0.7"/>
<text x="536.86" y="305.14" font-size="4.4" fill="#666" color="#666" stroke-width="0" text-anchor="middle" textLength="1.96" lengthAdjust="spacingAndGlyphs">2</text>
<line x1="544.94" y1="298.50" x2="544.94" y2="300.50" stroke="#3a3a3a" stroke-width="0.7"/>
<line x1="553.02" y1="298.50" x2="553.02" y2="300.50" stroke="#3a3a3a" stroke-width="0.7"/>
<text x="553.02" y="305.14" font-size="4.4" fill="#666" color="#666" stroke-width="0" text-anchor="middle" textLength="1.96" lengthAdjust="spacingAndGlyphs">4</text>
<line x1="561.10" y1="298.50" x2="561.10" y2="300.50" stroke="#3a3a3a" stroke-width="0.7"/>
<line x1="569.18" y1="298.50" x2="569.18" y2="300.50" stroke="#3a3a3a" stroke-width="0.7"/>
<text x="569.18" y="305.14" font-size="4.4" fill="#666" color="#666" stroke-width="0" text-anchor="middle" textLength="1.96" lengthAdjust="spacingAndGlyphs">6</text>
<line x1="577.26" y1="298.50" x2="577.26" y2="300.50" stroke="#3a3a3a" stroke-width="0.7"/>
<line x1="585.34" y1="298.50" x2="585.34" y2="300.50" stroke="#3a3a3a" stroke-width="0.7"/>
<text x="585.34" y="305.14" font-size="4.4" fill="#666" color="#666" stroke-width="0" text-anchor="middle" textLength="1.96" lengthAdjust="spacingAndGlyphs">8</text>
<line x1="593.42" y1="298.50" x2="593.42" y2="300.50" stroke="#3a3a3a" stroke-width="0.7"/>
<line x1="601.50" y1="298.50" x2="601.50" y2="300.50" stroke="#3a3a3a" stroke-width="0.7"/>
<text x="601.50" y="305.14" font-size="4.4" fill="#666" color="#666" stroke-width="0" text-anchor="middle" textLength="3.92" lengthAdjust="spacingAndGlyphs">10</text>
<line x1="609.58" y1="298.50" x2="609.58" y2="300.50" stroke="#3a3a3a" stroke-width="0.7"/>
<line x1="617.66" y1="298.50" x2="617.66" y2="300.50" stroke="#3a3a3a" stroke-width="0.7"/>
<text x="617.66" y="305.14" font-size="4.4" fill="#666" color="#666" stroke-width="0" text-anchor="middle" textLength="3.92" lengthAdjust="spacingAndGlyphs">12</text>
<line x1="625.74" y1="298.50" x2="625.74" y2="300.50" stroke="#3a3a3a" stroke-width="0.7"/>
<line x1="633.82" y1="298.50" x2="633.82" y2="300.50" stroke="#3a3a3a" stroke-width="0.7"/>
<text x="633.82" y="305.14" font-size="4.4" fill="#666" color="#666" stroke-width="0" text-anchor="middle" textLength="3.92" lengthAdjust="spacingAndGlyphs">14</text>
<line x1="641.90" y1="298.50" x2="641.90" y2="300.50" stroke="#3a3a3a" stroke-width="0.7"/>
<line x1="649.98" y1="298.50" x2="649.98" y2="300.50" stroke="#3a3a3a" stroke-width="0.7"/>
<text x="649.98" y="305.14" font-size="4.4" fill="#666" color="#666" stroke-width="0" text-anchor="middle" textLength="3.92" lengthAdjust="spacingAndGlyphs">16</text>
<line x1="658.06" y1="298.50" x2="658.06" y2="300.50" stroke="#3a3a3a" stroke-width="0.7"/>
<line x1="666.14" y1="298.50" x2="666.14" y2="300.50" stroke="#3a3a3a" stroke-width="0.7"/>
<text x="666.14" y="305.14" font-size="4.4" fill="#666" color="#666" stroke-width="0" text-anchor="middle" textLength="3.92" lengthAdjust="spacingAndGlyphs">18</text>
<line x1="674.22" y1="298.50" x2="674.22" y2="300.50" stroke="#3a3a3a" stroke-width="0.7"/>
<line x1="682.30" y1="298.50" x2="682.30" y2="300.50" stroke="#3a3a3a" stroke-width="0.7"/>
<text x="682.30" y="305.14" font-size="4.4" fill="#666" color="#666" stroke-width="0" text-anchor="middle" textLength="3.92" lengthAdjust="spacingAndGlyphs">20</text>
<line x1="690.38" y1="298.50" x2="690.38" y2="300.50" stroke="#3a3a3a" stroke-width="0.7"/>
<line x1="698.46" y1="298.50" x2="698.46" y2="300.50" stroke="#3a3a3a" stroke-width="0.7"/>
<text x="698.46" y="305.14" font-size="4.4" fill="#666" color="#666" stroke-width="0" text-anchor="middle" textLength="3.92" lengthAdjust="spacingAndGlyphs">22</text>
<line x1="706.54" y1="298.50" x2="706.54" y2="300.50" stroke="#3a3a3a" stroke-width="0.7"/>
<line x1="714.62" y1="298.50" x2="714.62" y2="300.50" stroke="#3a3a3a" stroke-width="0.7"/>
<text x="714.62" y="305.14" font-size="4.4" fill="#666" color="#666" stroke-width="0" text-anchor="middle" textLength="3.92" lengthAdjust="spacingAndGlyphs">24</text>
<line x1="722.70" y1="298.50" x2="722.70" y2="300.50" stroke="#3a3a3a" stroke-width="0.7"/>
<line x1="730.78" y1="298.50" x2="730.78" y2="300.50" stroke="#3a3a3a" stroke-width="0.7"/>
<text x="730.78" y="305.14" font-size="4.4" fill="#666" color="#666" stroke-width="0" text-anchor="middle" textLength="3.92" lengthAdjust="spacingAndGlyphs">26</text>
<line x1="738.86" y1="298.50" x2="738.86" y2="300.50" stroke="#3a3a3a" stroke-width="0.7"/>
<line x1="746.94" y1="298.50" x2="746.94" y2="300.50" stroke="#3a3a3a" stroke-width="0.7"/>
<text x="746.94" y="305.14" font-size="4.4" fill="#666" color="#666" stroke-width="0" text-anchor="middle" textLength="3.92" lengthAdjust="spacingAndGlyphs">28</text>
<g transform="translate(501.70 258.40) rotate(-90)"><text x="0" y="1.61" font-size="4.6" fill="#2a2a2a" color="#2a2a2a" stroke-width="0" text-anchor="middle" font-weight="bold" textLength="62.60" lengthAdjust="spacingAndGlyphs">Percentage of Patients Reporting</text></g>
<g transform="translate(507.30 257.80) rotate(-90)"><text x="0" y="1.61" font-size="4.6" fill="#2a2a2a" color="#2a2a2a" stroke-width="0" text-anchor="middle" font-weight="bold" textLength="61.40" lengthAdjust="spacingAndGlyphs">Worsening of Overall Symptoms</text></g>
<line x1="533.30" y1="217.50" x2="550.30" y2="217.50" stroke="#bf2535" stroke-width="1.0"/>
<path d="M541.70 215.40L543.90 217.60L541.70 219.80L539.50 217.60Z" fill="#bf2535"/>
<text x="550.30" y="219.35" font-size="5.0" fill="#c42a36" color="#c42a36" stroke-width="0.05" textLength="68.70" lengthAdjust="spacingAndGlyphs">Nirmatrelvir 300 mg + Ritonavir 100 mg</text>
<text x="550.30" y="225.05" font-size="5.0" fill="#c42a36" color="#c42a36" stroke-width="0.05" textLength="28.50" lengthAdjust="spacingAndGlyphs">Median days=NE</text>
<text x="550.30" y="230.75" font-size="5.0" fill="#c42a36" color="#c42a36" stroke-width="0.05" textLength="27.00" lengthAdjust="spacingAndGlyphs">95% CI, NE–NE</text>
<line x1="630.40" y1="217.50" x2="647.70" y2="217.50" stroke="#3147a0" stroke-width="1.0"/>
<rect x="637.70" y="215.90" width="3.20" height="3.20" fill="#3147a0"/>
<text x="650.00" y="219.25" font-size="5.0" fill="#3b52a6" color="#3b52a6" stroke-width="0.05" textLength="14.00" lengthAdjust="spacingAndGlyphs">Placebo</text>
<text x="650.00" y="225.05" font-size="5.0" fill="#3b52a6" color="#3b52a6" stroke-width="0.05" textLength="30.00" lengthAdjust="spacingAndGlyphs">Median days=NE</text>
<text x="650.00" y="230.75" font-size="5.0" fill="#3b52a6" color="#3b52a6" stroke-width="0.05" textLength="28.00" lengthAdjust="spacingAndGlyphs">95% CI, NE–NE</text>
<text x="701.80" y="267.55" font-size="5.0" fill="#222" color="#222" stroke-width="0.05" textLength="33.00" lengthAdjust="spacingAndGlyphs">Hazard Ratio=0.73</text>
<text x="701.80" y="272.65" font-size="5.0" fill="#222" color="#222" stroke-width="0.05" textLength="30.00" lengthAdjust="spacingAndGlyphs">95% CI, 0.59-0.91</text>
<text x="701.80" y="277.75" font-size="5.0" fill="#222" color="#222" stroke-width="0.05" textLength="19.00" lengthAdjust="spacingAndGlyphs">P=0.0022</text>
<text x="599.10" y="309.61" font-size="4.9" fill="#111" color="#111" stroke-width="0" textLength="72.50" lengthAdjust="spacingAndGlyphs" font-weight="bold">Time to Progression to a Worsening Status, d</text>
<polyline points="520.70,298.50 536.86,298.50 536.86,292.73 544.94,292.73 544.94,290.29 553.02,290.29 553.02,289.31 561.10,289.31 561.10,288.91 569.18,288.91 569.18,288.74 577.26,288.74 577.26,288.34 585.34,288.34 585.34,288.01 617.66,288.01 617.66,287.69 666.14,287.69 666.14,286.63 747.50,286.63" fill="none" stroke="#bf2535" stroke-width="0.8" stroke-linejoin="miter"/>
<polyline points="520.70,298.50 536.86,298.50 536.86,290.04 544.94,290.04 544.94,286.71 553.02,286.71 553.02,285.57 561.10,285.57 561.10,284.68 569.18,284.68 569.18,284.27 585.34,284.27 585.34,283.62 625.74,283.62 625.74,282.57 706.54,282.57 706.54,281.59 747.50,281.59" fill="none" stroke="#3147a0" stroke-width="0.8" stroke-linejoin="miter"/>
<text x="487.60" y="313.34" font-size="4.4" fill="#222" color="#222" stroke-width="0.05" textLength="14.40" lengthAdjust="spacingAndGlyphs">No. at risk:</text>
<text x="487.60" y="318.14" font-size="4.4" fill="#c42a36" color="#c42a36" stroke-width="0.03" textLength="28.20" lengthAdjust="spacingAndGlyphs">Nirmatrelvir/Ritonavir</text>
<text x="487.60" y="322.54" font-size="4.4" fill="#3b52a6" color="#3b52a6" stroke-width="0.03" textLength="11.70" lengthAdjust="spacingAndGlyphs">Placebo</text>
<text x="520.70" y="318.14" font-size="4.4" fill="#c42a36" color="#c42a36" stroke-width="0.05" text-anchor="middle" textLength="6.46" lengthAdjust="spacingAndGlyphs">1001</text>
<text x="520.70" y="322.54" font-size="4.4" fill="#3b52a6" color="#3b52a6" stroke-width="0.05" text-anchor="middle" textLength="6.46" lengthAdjust="spacingAndGlyphs">1021</text>
<text x="536.86" y="318.14" font-size="4.4" fill="#c42a36" color="#c42a36" stroke-width="0.05" text-anchor="middle" textLength="4.85" lengthAdjust="spacingAndGlyphs">987</text>
<text x="536.86" y="322.54" font-size="4.4" fill="#3b52a6" color="#3b52a6" stroke-width="0.05" text-anchor="middle" textLength="6.46" lengthAdjust="spacingAndGlyphs">1007</text>
<text x="553.02" y="318.14" font-size="4.4" fill="#c42a36" color="#c42a36" stroke-width="0.05" text-anchor="middle" textLength="4.85" lengthAdjust="spacingAndGlyphs">966</text>
<text x="553.02" y="322.54" font-size="4.4" fill="#3b52a6" color="#3b52a6" stroke-width="0.05" text-anchor="middle" textLength="4.85" lengthAdjust="spacingAndGlyphs">994</text>
<text x="569.18" y="318.14" font-size="4.4" fill="#c42a36" color="#c42a36" stroke-width="0.05" text-anchor="middle" textLength="4.85" lengthAdjust="spacingAndGlyphs">932</text>
<text x="569.18" y="322.54" font-size="4.4" fill="#3b52a6" color="#3b52a6" stroke-width="0.05" text-anchor="middle" textLength="4.85" lengthAdjust="spacingAndGlyphs">973</text>
<text x="585.34" y="318.14" font-size="4.4" fill="#c42a36" color="#c42a36" stroke-width="0.05" text-anchor="middle" textLength="4.85" lengthAdjust="spacingAndGlyphs">926</text>
<text x="585.34" y="322.54" font-size="4.4" fill="#3b52a6" color="#3b52a6" stroke-width="0.05" text-anchor="middle" textLength="4.85" lengthAdjust="spacingAndGlyphs">799</text>
<text x="601.50" y="318.14" font-size="4.4" fill="#c42a36" color="#c42a36" stroke-width="0.05" text-anchor="middle" textLength="4.85" lengthAdjust="spacingAndGlyphs">926</text>
<text x="601.50" y="322.54" font-size="4.4" fill="#3b52a6" color="#3b52a6" stroke-width="0.05" text-anchor="middle" textLength="4.85" lengthAdjust="spacingAndGlyphs">799</text>
<text x="617.66" y="318.14" font-size="4.4" fill="#c42a36" color="#c42a36" stroke-width="0.05" text-anchor="middle" textLength="4.85" lengthAdjust="spacingAndGlyphs">924</text>
<text x="617.66" y="322.54" font-size="4.4" fill="#3b52a6" color="#3b52a6" stroke-width="0.05" text-anchor="middle" textLength="4.85" lengthAdjust="spacingAndGlyphs">779</text>
<text x="633.82" y="318.14" font-size="4.4" fill="#c42a36" color="#c42a36" stroke-width="0.05" text-anchor="middle" textLength="4.85" lengthAdjust="spacingAndGlyphs">919</text>
<text x="633.82" y="322.54" font-size="4.4" fill="#3b52a6" color="#3b52a6" stroke-width="0.05" text-anchor="middle" textLength="4.85" lengthAdjust="spacingAndGlyphs">771</text>
<text x="649.98" y="318.14" font-size="4.4" fill="#c42a36" color="#c42a36" stroke-width="0.05" text-anchor="middle" textLength="4.85" lengthAdjust="spacingAndGlyphs">905</text>
<text x="649.98" y="322.54" font-size="4.4" fill="#3b52a6" color="#3b52a6" stroke-width="0.05" text-anchor="middle" textLength="4.85" lengthAdjust="spacingAndGlyphs">765</text>
<text x="666.14" y="318.14" font-size="4.4" fill="#c42a36" color="#c42a36" stroke-width="0.05" text-anchor="middle" textLength="4.85" lengthAdjust="spacingAndGlyphs">901</text>
<text x="666.14" y="322.54" font-size="4.4" fill="#3b52a6" color="#3b52a6" stroke-width="0.05" text-anchor="middle" textLength="4.85" lengthAdjust="spacingAndGlyphs">759</text>
<text x="682.30" y="318.14" font-size="4.4" fill="#c42a36" color="#c42a36" stroke-width="0.05" text-anchor="middle" textLength="4.85" lengthAdjust="spacingAndGlyphs">789</text>
<text x="682.30" y="322.54" font-size="4.4" fill="#3b52a6" color="#3b52a6" stroke-width="0.05" text-anchor="middle" textLength="4.85" lengthAdjust="spacingAndGlyphs">753</text>
<text x="698.46" y="318.14" font-size="4.4" fill="#c42a36" color="#c42a36" stroke-width="0.05" text-anchor="middle" textLength="4.85" lengthAdjust="spacingAndGlyphs">787</text>
<text x="698.46" y="322.54" font-size="4.4" fill="#3b52a6" color="#3b52a6" stroke-width="0.05" text-anchor="middle" textLength="4.85" lengthAdjust="spacingAndGlyphs">744</text>
<text x="714.62" y="318.14" font-size="4.4" fill="#c42a36" color="#c42a36" stroke-width="0.05" text-anchor="middle" textLength="4.85" lengthAdjust="spacingAndGlyphs">776</text>
<text x="714.62" y="322.54" font-size="4.4" fill="#3b52a6" color="#3b52a6" stroke-width="0.05" text-anchor="middle" textLength="4.85" lengthAdjust="spacingAndGlyphs">726</text>
<text x="730.78" y="318.14" font-size="4.4" fill="#c42a36" color="#c42a36" stroke-width="0.05" text-anchor="middle" textLength="4.85" lengthAdjust="spacingAndGlyphs">759</text>
<text x="730.78" y="322.54" font-size="4.4" fill="#3b52a6" color="#3b52a6" stroke-width="0.05" text-anchor="middle" textLength="4.85" lengthAdjust="spacingAndGlyphs">719</text>
<text x="746.94" y="318.14" font-size="4.4" fill="#c42a36" color="#c42a36" stroke-width="0.05" text-anchor="middle" textLength="4.85" lengthAdjust="spacingAndGlyphs">692</text>
<text x="746.94" y="322.54" font-size="4.4" fill="#3b52a6" color="#3b52a6" stroke-width="0.05" text-anchor="middle" textLength="4.85" lengthAdjust="spacingAndGlyphs">625</text>
</svg></body></html>
